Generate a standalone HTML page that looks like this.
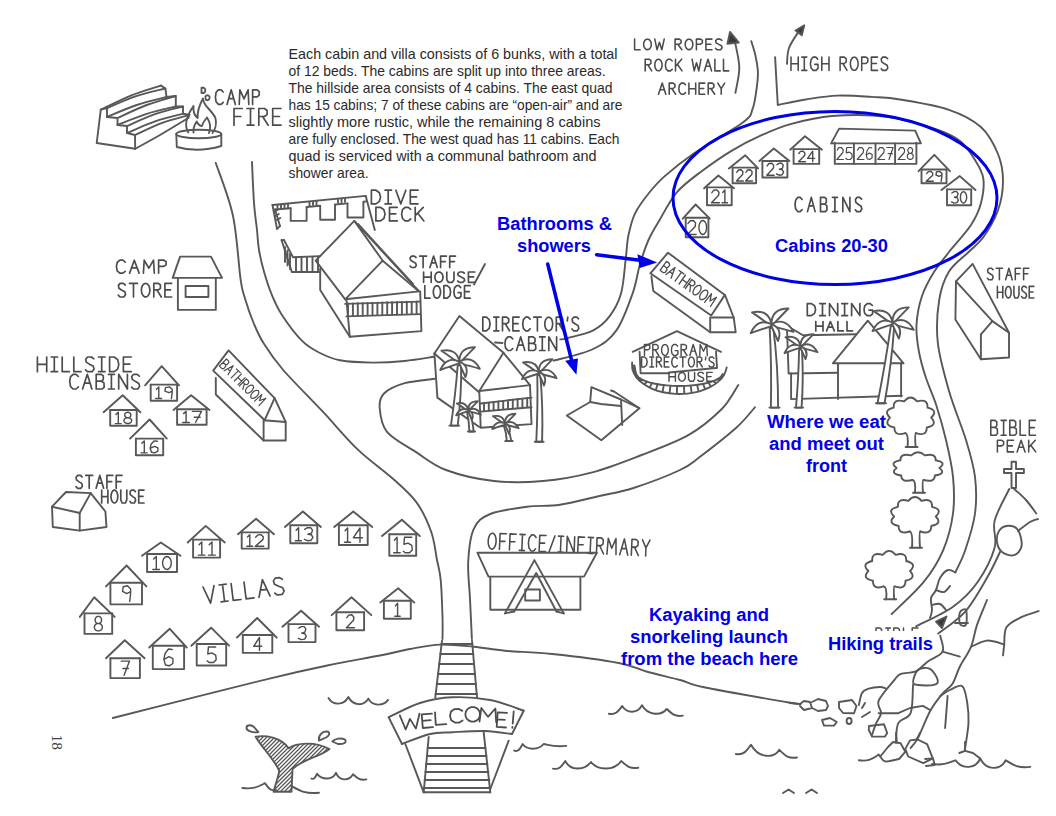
<!DOCTYPE html>
<html><head><meta charset="utf-8">
<style>
html,body{margin:0;padding:0;background:#fff;width:1056px;height:816px;overflow:hidden}
svg{position:absolute;left:0;top:0;display:block}
.p{font-family:"Liberation Sans",sans-serif;font-size:14.5px;fill:#2a2a2a}
.b{font-family:"Liberation Sans",sans-serif;font-weight:bold;font-size:18px;fill:#0000e6}
.h{font-family:"Liberation Sans",sans-serif;fill:#3c3c3c}
.d{fill:none;stroke:#585858;stroke-width:1.9;stroke-linecap:round;stroke-linejoin:round}
.bl{fill:none;stroke:#0000e6;stroke-width:3}
</style></head><body>
<svg width="1056" height="816" viewBox="0 0 1056 816">
<!-- paragraph -->
<g class="p">
<text x="288.5" y="59" textLength="329" lengthAdjust="spacingAndGlyphs">Each cabin and villa consists of 6 bunks, with a total</text>
<text x="288.5" y="76" textLength="317" lengthAdjust="spacingAndGlyphs">of 12 beds. The cabins are split up into three areas.</text>
<text x="288.5" y="93" textLength="324" lengthAdjust="spacingAndGlyphs">The hillside area consists of 4 cabins. The east quad</text>
<text x="288.5" y="110" textLength="334" lengthAdjust="spacingAndGlyphs">has 15 cabins; 7 of these cabins are “open-air” and are</text>
<text x="288.5" y="127" textLength="312" lengthAdjust="spacingAndGlyphs">slightly more rustic, while the remaining 8 cabins</text>
<text x="288.5" y="144" textLength="331" lengthAdjust="spacingAndGlyphs">are fully enclosed. The west quad has 11 cabins. Each</text>
<text x="288.5" y="161" textLength="308" lengthAdjust="spacingAndGlyphs">quad is serviced with a communal bathroom and</text>
<text x="288.5" y="178" textLength="80" lengthAdjust="spacingAndGlyphs">shower area.</text>
</g>
<!-- DRAWING -->
<g class="d" id="draw">
<path d="M215.8,163.0 C218.7,171.8 228.9,196.6 233.0,216.0 C237.1,235.4 238.6,265.6 240.6,279.4 C242.6,293.1 242.8,291.1 245.0,298.5 C247.2,305.9 250.6,315.9 253.8,323.5 C257.0,331.1 259.2,336.4 264.1,344.1 C269.0,351.9 273.5,358.8 283.2,370.0 C292.9,381.2 310.0,398.0 322.4,411.2 C334.8,424.4 345.8,438.1 357.6,449.4 C369.4,460.7 383.2,470.0 393.0,478.8 C402.8,487.6 410.1,493.6 416.5,502.4 C422.9,511.2 427.8,522.2 431.2,531.8 C434.6,541.4 435.4,552.0 437.0,560.0 C438.6,568.0 439.8,570.5 440.7,580.0 C441.6,589.5 442.2,607.2 442.5,617.0 C442.8,626.8 442.5,635.3 442.5,639.0"/>
<path d="M252.0,162.0 C252.3,168.8 253.2,191.7 254.0,203.0 C254.8,214.3 256.2,222.2 257.0,230.0 C257.8,237.8 257.8,243.0 259.0,250.0 C260.2,257.0 262.0,264.7 264.1,272.0 C266.2,279.3 268.6,286.9 271.5,294.0 C274.4,301.1 276.7,306.8 281.8,314.7 C286.9,322.6 296.0,334.8 302.4,341.2 C308.8,347.6 313.7,349.8 320.0,353.0 C326.3,356.2 331.3,358.7 340.0,360.3 C348.7,361.9 361.2,362.5 372.0,362.6 C382.8,362.7 394.4,362.0 404.7,361.0 C415.0,360.0 429.1,357.5 434.0,356.8"/>
<path d="M434.8,378.8 C429.8,379.5 413.2,380.8 404.7,383.2 C396.2,385.6 388.2,389.4 384.0,393.5 C379.8,397.6 379.2,401.6 379.7,408.0 C380.2,414.4 380.9,424.4 387.0,431.8 C393.1,439.2 406.7,446.0 416.5,452.4 C426.3,458.8 433.1,465.2 446.0,470.0 C458.9,474.8 477.7,479.2 493.9,481.0 C510.1,482.8 526.6,482.4 543.0,481.0 C559.4,479.6 575.9,476.6 592.3,472.3 C608.7,468.0 625.5,461.2 641.6,455.0 C657.7,448.8 675.3,442.6 688.7,434.9 C702.1,427.2 713.5,417.3 721.8,409.0 C730.1,400.7 735.5,389.0 738.3,385.0"/>
<path d="M471.9,639.0 C471.6,632.3 470.6,611.5 470.0,598.7 C469.4,585.9 467.6,573.6 468.2,562.0 C468.8,550.4 470.1,536.8 473.8,528.8 C477.4,520.8 481.4,517.7 490.3,514.0 C499.2,510.3 515.4,508.4 527.0,506.8 C538.6,505.2 547.7,506.6 560.0,504.7 C572.3,502.8 588.4,498.5 600.6,495.7 C612.9,492.9 620.3,492.3 633.5,488.0 C646.7,483.7 669.0,475.2 680.0,470.0 C691.0,464.8 690.3,464.1 699.7,457.0 C709.1,449.9 727.3,435.8 736.5,427.5 C745.7,419.2 751.8,410.7 754.9,407.3"/>
<path d="M565.0,337.5 C565.8,337.5 565.2,338.6 569.9,337.4 C574.6,336.2 586.6,333.9 593.2,330.4 C599.8,326.9 604.9,322.6 609.5,316.4 C614.1,310.2 618.4,302.9 621.1,293.2 C623.8,283.5 624.6,267.9 625.8,258.2 C627.0,248.5 626.9,242.5 628.5,235.0 C630.1,227.5 631.8,220.1 635.2,213.1 C638.6,206.1 644.1,199.1 649.0,193.0 C653.9,186.9 657.2,182.8 664.5,176.4 C671.8,170.0 679.6,163.3 692.7,154.3 C705.8,145.3 733.1,129.8 743.1,122.2 C753.1,114.6 750.4,114.3 752.6,108.9 C754.8,103.5 755.5,96.2 756.4,90.0 C757.3,83.8 758.1,77.9 757.9,72.0 C757.7,66.1 756.3,59.6 755.2,54.5 C754.1,49.4 751.9,43.4 751.3,41.2"/>
<path d="M553.6,360.7 C560.2,358.8 582.7,354.1 593.2,349.0 C603.7,343.9 609.8,339.7 616.4,330.4 C623.0,321.1 628.8,304.1 632.7,293.2 C636.6,282.3 637.1,274.1 639.7,265.2 C642.3,256.3 645.2,247.5 648.5,240.0 C651.8,232.5 654.9,227.9 659.6,220.0 C664.3,212.1 669.8,200.4 676.8,192.3 C683.8,184.2 692.1,178.4 701.3,171.5 C710.5,164.6 722.1,156.5 731.9,150.6 C741.7,144.7 750.2,140.3 760.0,135.9 C769.8,131.5 778.5,127.4 790.5,124.1 C802.5,120.8 815.9,117.2 832.0,116.0 C848.1,114.8 869.8,114.6 887.0,116.8 C904.2,119.0 922.8,125.0 935.0,129.0 C947.2,133.0 953.3,135.8 960.0,141.0 C966.7,146.2 971.1,153.8 975.0,160.0 C978.9,166.2 982.3,171.2 983.3,178.4 C984.3,185.6 983.0,195.2 981.0,203.0 C979.0,210.8 976.3,216.8 971.0,225.0 C965.7,233.2 955.1,244.2 949.0,252.0 C942.9,259.8 938.8,264.3 934.3,271.6 C929.8,278.9 925.0,287.1 922.0,296.0 C919.0,304.9 917.0,315.7 916.5,325.0 C916.0,334.3 917.4,343.2 919.0,352.0 C920.6,360.8 923.1,369.2 926.0,378.0 C928.9,386.8 932.9,394.7 936.2,405.0 C939.5,415.3 943.2,428.0 946.0,440.0 C948.8,452.0 951.8,464.6 953.0,476.8 C954.2,489.1 954.6,501.2 953.0,513.5 C951.4,525.8 948.0,538.8 943.1,550.3 C938.2,561.8 932.1,571.6 923.5,582.2 C914.9,592.8 897.0,608.7 891.7,614.0"/>
<path d="M775.1,57.1 C775.5,65.1 777.3,96.9 777.8,104.9"/>
<path d="M777.8,104.9 C782.4,104.0 795.7,101.1 805.6,99.5 C815.5,98.0 826.4,96.0 837.4,95.6 C848.4,95.2 861.5,96.2 871.9,96.9 C882.3,97.6 887.1,97.4 900.0,99.5 C912.9,101.7 935.5,105.2 949.0,109.8 C962.5,114.4 972.7,119.6 980.9,127.0 C989.1,134.4 994.3,145.0 998.0,154.0 C1001.7,163.0 1003.0,171.6 1003.0,181.0 C1003.0,190.4 1001.3,200.9 998.0,210.3 C994.7,219.7 988.2,230.4 983.3,237.3 C978.4,244.2 974.3,246.3 968.6,252.0 C962.9,257.7 953.9,263.6 949.0,271.6 C944.1,279.6 941.1,288.1 939.2,300.0 C937.3,311.9 936.1,327.3 937.8,342.7 C939.5,358.1 944.7,376.1 949.4,392.3 C954.1,408.5 961.7,425.9 966.0,440.0 C970.3,454.1 973.5,464.6 975.0,476.8 C976.5,489.1 976.6,501.2 975.0,513.5 C973.4,525.8 968.5,540.5 965.2,550.3 C961.9,560.1 957.0,568.7 955.4,572.4"/>
<path d="M100.8,109.6 L96.7,143.0 L135.2,148.8"/>
<path d="M100.8,109.6 L107.0,108.0 L107.0,117.0 L117.5,118.0 L117.5,125.0 L127.0,126.0 L127.0,133.0 L135.0,135.0 L135.2,148.8"/>
<path d="M161.0,85.6 L165.4,88.5 L166.5,97.0 L175.8,96.0 L175.8,106.5 L183.0,106.5 L183.0,113.8 L189.4,114.8 L188.3,118.0"/>
<path d="M135.2,148.8 C139.3,146.5 151.2,140.1 160.0,135.0 C168.8,129.9 183.6,120.8 188.3,118.0"/>
<path d="M100.8,109.6 C105.8,107.3 120.9,99.6 130.9,95.6 C140.9,91.6 156.0,87.3 161.0,85.6"/>
<path d="M107.0,108.0 C111.9,106.0 126.5,99.5 136.2,96.2 C145.9,93.0 160.5,89.8 165.4,88.5"/>
<path d="M107.0,117.0 C112.0,115.0 126.8,108.3 136.8,105.0 C146.7,101.7 161.5,98.3 166.5,97.0"/>
<path d="M117.5,118.0 C122.4,115.8 136.9,108.7 146.7,105.0 C156.4,101.3 170.9,97.5 175.8,96.0"/>
<path d="M117.5,125.0 C122.4,123.1 136.9,116.8 146.7,113.8 C156.4,110.7 170.9,107.7 175.8,106.5"/>
<path d="M127.0,126.0 C131.7,124.0 145.7,117.5 155.0,114.2 C164.3,111.0 178.3,107.8 183.0,106.5"/>
<path d="M127.0,133.0 C131.7,131.1 145.7,124.6 155.0,121.4 C164.3,118.2 178.3,115.0 183.0,113.8"/>
<path d="M135.0,135.0 C139.5,133.0 153.1,126.3 162.2,122.9 C171.3,119.5 184.9,116.2 189.4,114.8"/>
<path d="M176.3,134 A22.5,4.2 0 0 1 221.3,134 A22.5,4.2 0 0 1 176.3,134 Z"/>
<path d="M176.3,134 L176.8,147 Q198,153 221.3,146 L221.3,134"/>
<path d="M188.3,132.5 C183,124 188,114 193.5,106 C193,112 195,116 197.7,118 C197,110 200,104 203,98.5 C203,106 212,110 215.4,118 C217,124 215,130 212.5,133"/>
<path d="M193.5,132.5 C193,128 195,124 196.7,121.5 C198,124 200,126 201.9,126 C203,122 205,120 207,117.5 C210,122 211,128 209,133"/>
<path d="M201.5,87.7 L203.5,87.7 C206,89 206,92 203.5,93 L201.5,93 Z"/>
<path d="M205.5,98 C205,95 208,94.5 209.5,96.5 C210.5,99 208,101 206,100 Z"/>
<path d="M223.2,92.0L221.1,89.8L218.4,89.8L216.1,92.4L215.4,97.1L216.1,101.8L218.4,104.4L221.1,104.4L223.2,102.4M227.0,104.4L231.2,89.8L235.4,104.4M228.7,98.6L233.7,98.6M239.2,104.4L239.9,89.8L244.0,98.9L248.1,89.8L248.8,104.4M252.6,104.4L252.6,89.8L257.2,89.8L259.2,91.6L259.2,95.1L257.2,96.8L252.6,96.8" fill="none" stroke="#4c4c4c" stroke-width="1.68" stroke-linecap="round" stroke-linejoin="round"/>
<path d="M242.3,108.5L234.0,108.5L234.0,125.2M234.0,116.5L240.8,116.5M250.5,108.5L250.5,125.2M247.1,108.5L253.9,108.5M247.1,125.2L253.9,125.2M258.8,125.2L258.8,108.5L264.5,108.5L267.1,110.5L267.1,114.5L264.5,116.5L258.8,116.5M262.6,116.5L268.2,125.2M281.0,108.5L272.7,108.5L272.7,125.2L281.0,125.2M272.7,116.5L279.5,116.5" fill="none" stroke="#4c4c4c" stroke-width="1.68" stroke-linecap="round" stroke-linejoin="round"/>
<path d="M272.5,205.0 L365.7,195.9"/>
<path d="M275.0,209.5 L290.7,208.3"/>
<path d="M306.6,207.0 L320.2,205.8"/>
<path d="M335.0,204.5 L347.5,203.4"/>
<path d="M363.4,201.8 L365.7,201.5"/>
<path d="M290.7,208.1 L290.7,220.9 L306.6,220.9 L306.6,207.1"/>
<path d="M320.2,205.9 L320.2,219.8 L335.0,219.8 L335.0,204.9"/>
<path d="M347.5,203.6 L347.5,217.5 L363.4,217.5 L363.4,202.6"/>
<path d="M365.7,195.9 L374.8,230.0"/>
<path d="M272.5,205.0 L277.0,228.9"/>
<path d="M275.0,209.5 L280.0,226.0"/>
<path d="M277.0,228.9 L280.0,226.0"/>
<path d="M277.5,205.0 L277.5,208.5"/>
<path d="M281.0,204.7 L281.0,208.2"/>
<path d="M284.5,204.3 L284.5,207.8"/>
<path d="M288.0,204.0 L288.0,207.5"/>
<path d="M309.5,201.9 L309.5,205.4"/>
<path d="M313.0,201.5 L313.0,205.0"/>
<path d="M316.5,201.2 L316.5,204.7"/>
<path d="M338.0,199.1 L338.0,202.6"/>
<path d="M341.5,198.8 L341.5,202.3"/>
<path d="M345.0,198.4 L345.0,201.9"/>
<path d="M273.8,212.0 L277.3,210.0"/>
<path d="M275.3,216.0 L278.8,214.0"/>
<path d="M276.8,220.0 L280.3,218.0"/>
<path d="M281.6,240.2 L291.8,272.0 L320.2,272.0"/>
<path d="M284.0,240.0 L293.0,257.3 L320.2,256.1"/>
<path d="M281.6,240.2 L284.0,240.0"/>
<path d="M296.0,257.0 L296.0,272.0"/>
<path d="M301.5,257.0 L301.5,272.0"/>
<path d="M307.0,257.0 L307.0,272.0"/>
<path d="M312.5,257.0 L312.5,272.0"/>
<path d="M318.0,257.0 L318.0,272.0"/>
<path d="M285.0,247.0 L285.0,262.0"/>
<path d="M287.5,250.5 L287.5,265.5"/>
<path d="M290.0,254.0 L290.0,269.0"/>
<path d="M371.4,190.2L371.4,203.9L375.9,203.9L379.4,201.4L380.6,197.1L379.4,192.7L375.9,190.2L371.4,190.2M388.2,190.2L388.2,203.9M385.1,190.2L391.4,190.2M385.1,203.9L391.4,203.9M395.9,190.2L400.8,203.9L405.8,190.2M418.0,190.2L410.3,190.2L410.3,203.9L418.0,203.9M410.3,196.8L416.6,196.8" fill="none" stroke="#4c4c4c" stroke-width="1.68" stroke-linecap="round" stroke-linejoin="round"/>
<path d="M375.9,207.3L375.9,220.9L380.4,220.9L383.9,218.5L385.0,214.1L383.9,209.7L380.4,207.3L375.9,207.3M397.2,207.3L389.5,207.3L389.5,220.9L397.2,220.9M389.5,213.8L395.8,213.8M410.7,209.3L408.4,207.3L405.1,207.3L402.5,209.7L401.6,214.1L402.5,218.5L405.1,220.9L408.4,220.9L410.7,219.0M415.2,207.3L415.2,220.9M423.3,207.3L415.2,215.7M418.0,213.4L423.9,220.9" fill="none" stroke="#4c4c4c" stroke-width="1.68" stroke-linecap="round" stroke-linejoin="round"/>
<path d="M354.3,220.9 L315.7,260.7 L345.2,299.3 L382.7,260.7 L354.3,220.9"/>
<path d="M354.3,220.9 L419.1,291.4"/>
<path d="M358.0,224.0 L413.0,284.0"/>
<path d="M345.2,299.3 L419.1,291.4 L382.7,260.7"/>
<path d="M345.2,303.9 L420.2,301.6"/>
<path d="M346.4,316.4 L420.2,314.1"/>
<path d="M348.0,303.5 L348.0,316.0"/>
<path d="M352.9,303.4 L352.9,315.9"/>
<path d="M357.8,303.2 L357.8,315.7"/>
<path d="M362.7,303.1 L362.7,315.6"/>
<path d="M367.6,302.9 L367.6,315.4"/>
<path d="M372.5,302.8 L372.5,315.2"/>
<path d="M377.4,302.6 L377.4,315.1"/>
<path d="M382.3,302.4 L382.3,314.9"/>
<path d="M387.2,302.3 L387.2,314.8"/>
<path d="M392.1,302.1 L392.1,314.6"/>
<path d="M397.0,302.0 L397.0,314.5"/>
<path d="M401.9,301.9 L401.9,314.4"/>
<path d="M406.8,301.7 L406.8,314.2"/>
<path d="M411.7,301.6 L411.7,314.1"/>
<path d="M416.6,301.4 L416.6,313.9"/>
<path d="M320.2,268.6 L320.2,290.0 L349.8,336.8"/>
<path d="M346.4,299.3 L349.8,336.8 L421.4,331.1 L420.2,291.4"/>
<path d="M416.1,257.5L414.4,256.1L411.6,256.1L410.1,257.8L410.5,260.1L413.1,261.8L415.7,263.2L416.3,265.4L414.8,267.5L411.5,267.5L410.0,266.0M419.6,256.1L426.6,256.1M423.1,256.1L423.1,267.5M429.9,267.5L433.6,256.1L437.3,267.5M431.4,262.9L435.8,262.9M446.4,256.1L440.6,256.1L440.6,267.5M440.6,261.6L445.3,261.6M455.5,256.1L449.7,256.1L449.7,267.5M449.7,261.6L454.5,261.6" fill="none" stroke="#4c4c4c" stroke-width="1.68" stroke-linecap="round" stroke-linejoin="round"/>
<path d="M423.6,272.0L423.6,282.3M431.2,272.0L431.2,282.3M423.6,277.1L431.2,277.1M443.0,277.1L442.8,278.9L442.1,280.5L441.0,281.6L439.7,282.2L438.3,282.2L436.9,281.6L435.8,280.5L435.1,278.9L434.9,277.2L435.1,275.4L435.8,273.8L436.9,272.7L438.3,272.1L439.7,272.1L441.0,272.7L442.1,273.8L442.8,275.4L443.0,277.1M446.8,272.0L446.8,279.7L448.4,282.3L452.3,282.3L454.0,279.7L454.0,272.0M464.4,273.2L462.6,272.0L459.4,272.0L457.8,273.5L458.3,275.6L461.2,277.1L464.0,278.4L464.7,280.4L463.0,282.3L459.3,282.3L457.7,281.0M474.8,272.0L468.4,272.0L468.4,282.3L474.8,282.3M468.4,276.9L473.6,276.9" fill="none" stroke="#4c4c4c" stroke-width="1.68" stroke-linecap="round" stroke-linejoin="round"/>
<path d="M474.0,284.5 L485.0,264.0"/>
<path d="M424.8,285.7L424.8,298.2L430.0,298.2M440.6,291.9L440.3,294.1L439.7,296.0L438.7,297.4L437.6,298.1L436.3,298.1L435.1,297.4L434.1,296.0L433.5,294.1L433.3,291.9L433.5,289.8L434.1,287.9L435.1,286.5L436.3,285.8L437.6,285.8L438.7,286.5L439.7,287.9L440.3,289.8L440.6,291.9M443.9,285.7L443.9,298.2L447.2,298.2L449.8,295.9L450.6,291.9L449.8,287.9L447.2,285.7L443.9,285.7M460.7,287.6L458.9,285.7L456.5,285.7L454.5,287.9L453.9,291.9L454.5,295.9L456.5,298.2L459.1,298.2L461.0,296.3L461.0,292.6L458.1,292.6M470.2,285.7L464.5,285.7L464.5,298.2L470.2,298.2M464.5,291.7L469.2,291.7" fill="none" stroke="#4c4c4c" stroke-width="1.68" stroke-linecap="round" stroke-linejoin="round"/>
<path d="M172.7,277.9 L180.1,256.6 L211.0,256.6 L222.0,277.9 L172.7,277.9"/>
<path d="M177.9,277.9 L177.9,309.9 L215.8,309.9 L215.8,277.9"/>
<path d="M185.6,286.0 L208.4,286.0 L208.4,297.0 L185.6,297.0Z"/>
<path d="M125.2,262.1L122.9,260.2L119.8,260.2L117.2,262.5L116.4,266.6L117.2,270.8L119.8,273.1L122.9,273.1L125.2,271.3M129.6,273.1L134.3,260.2L139.1,273.1M131.5,267.9L137.2,267.9M143.4,273.1L144.2,260.2L148.9,268.2L153.5,260.2L154.3,273.1M158.6,273.1L158.6,260.2L163.8,260.2L166.1,261.7L166.1,264.8L163.8,266.4L158.6,266.4" fill="none" stroke="#4c4c4c" stroke-width="1.68" stroke-linecap="round" stroke-linejoin="round"/>
<path d="M125.3,285.0L123.4,283.4L120.1,283.4L118.4,285.4L118.9,288.2L121.9,290.2L124.9,291.8L125.6,294.6L123.9,297.0L120.0,297.0L118.3,295.2M129.5,283.4L137.5,283.4M133.5,283.4L133.5,297.0M149.9,290.2L149.6,292.5L148.9,294.6L147.7,296.1L146.4,296.9L144.9,296.9L143.5,296.1L142.4,294.6L141.6,292.5L141.4,290.2L141.6,287.9L142.4,285.8L143.5,284.3L144.9,283.5L146.4,283.5L147.7,284.3L148.9,285.8L149.6,287.9L149.9,290.2M153.8,297.0L153.8,283.4L158.4,283.4L160.4,285.0L160.4,288.3L158.4,289.9L153.8,289.9M156.8,289.9L161.3,297.0M171.6,283.4L164.9,283.4L164.9,297.0L171.6,297.0M164.9,289.9L170.4,289.9" fill="none" stroke="#4c4c4c" stroke-width="1.68" stroke-linecap="round" stroke-linejoin="round"/>
<path d="M37.4,357.0L37.4,371.7M46.7,357.0L46.7,371.7M37.4,364.4L46.7,364.4M54.3,357.0L54.3,371.7M51.2,357.0L57.6,357.0M51.2,371.7L57.6,371.7M62.2,357.0L62.2,371.7L69.3,371.7M73.8,357.0L73.8,371.7L81.0,371.7M93.8,358.8L91.5,357.0L87.6,357.0L85.7,359.2L86.2,362.1L89.8,364.4L93.2,366.1L94.1,369.1L92.1,371.7L87.5,371.7L85.5,369.8M101.7,357.0L101.7,371.7M98.6,357.0L105.0,357.0M98.6,371.7L105.0,371.7M109.6,357.0L109.6,371.7L114.1,371.7L117.7,369.1L118.8,364.4L117.7,359.6L114.1,357.0L109.6,357.0M131.2,357.0L123.4,357.0L123.4,371.7L131.2,371.7M123.4,364.1L129.8,364.1" fill="none" stroke="#4c4c4c" stroke-width="1.68" stroke-linecap="round" stroke-linejoin="round"/>
<path d="M78.4,376.5L76.1,374.3L73.0,374.3L70.5,376.9L69.7,381.6L70.5,386.4L73.0,389.0L76.1,389.0L78.4,386.9M82.6,389.0L87.3,374.3L91.9,389.0M84.5,383.1L90.1,383.1M96.2,374.3L96.2,389.0M96.2,374.3L101.3,374.3L103.3,375.8L103.3,379.6L101.3,381.2L96.2,381.2M101.3,381.2L103.9,382.8L104.2,387.2L102.2,389.0L96.2,389.0M111.4,374.3L111.4,389.0M108.4,374.3L114.4,374.3M108.4,389.0L114.4,389.0M118.7,389.0L118.7,374.3L127.4,389.0L127.4,374.3M139.3,376.1L137.2,374.3L133.6,374.3L131.7,376.5L132.3,379.4L135.6,381.6L138.8,383.4L139.6,386.4L137.7,389.0L133.5,389.0L131.6,387.1" fill="none" stroke="#4c4c4c" stroke-width="1.68" stroke-linecap="round" stroke-linejoin="round"/>
<path d="M145.1,385.3 L161.7,366.2 L179.0,385.3"/>
<path d="M150.7,384.6 L177.1,384.6"/>
<path d="M150.7,384.6 L150.7,400.8 L177.1,400.8 L177.1,384.6"/>
<path d="M156.4,389.2L158.8,386.9L158.8,398.5M155.7,398.5L161.6,398.5M172.1,391.3L168.9,392.7L164.9,391.1L165.5,387.6L169.4,386.9L172.2,389.2L172.2,392.7L171.4,398.5" fill="none" stroke="#4c4c4c" stroke-width="1.4" stroke-linecap="round" stroke-linejoin="round"/>
<path d="M103.6,412.2 L122.7,395.2 L140.4,412.2"/>
<path d="M110.2,410.0 L136.7,410.0"/>
<path d="M110.2,410.0 L110.2,425.8 L136.7,425.8 L136.7,410.0"/>
<path d="M115.9,414.5L118.3,412.2L118.3,423.6M115.2,423.6L121.1,423.6M130.9,415.1L130.6,416.3L129.7,417.3L128.5,417.8L127.1,417.8L125.9,417.3L125.0,416.3L124.7,415.1L125.0,413.8L125.9,412.8L127.1,412.3L128.5,412.3L129.7,412.8L130.6,413.8L130.9,415.1M131.7,420.6L131.3,421.9L130.2,422.9L128.7,423.5L126.9,423.5L125.4,422.9L124.3,421.9L123.9,420.6L124.3,419.3L125.4,418.3L126.9,417.7L128.7,417.7L130.2,418.3L131.3,419.3L131.7,420.6" fill="none" stroke="#4c4c4c" stroke-width="1.4" stroke-linecap="round" stroke-linejoin="round"/>
<path d="M173.5,410.0 L191.1,395.2 L209.5,410.0"/>
<path d="M177.1,409.2 L206.6,409.2"/>
<path d="M177.1,409.2 L177.1,424.7 L206.6,424.7 L206.6,409.2"/>
<path d="M183.5,413.6L186.1,411.4L186.1,422.5M182.7,422.5L189.3,422.5M192.4,411.4L201.5,411.4L195.5,422.5M194.3,417.2L200.2,417.2" fill="none" stroke="#4c4c4c" stroke-width="1.4" stroke-linecap="round" stroke-linejoin="round"/>
<path d="M130.0,438.6 L149.6,419.5 L166.8,438.6"/>
<path d="M135.9,438.6 L163.2,438.6"/>
<path d="M135.9,438.6 L135.9,455.2 L163.2,455.2 L163.2,438.6"/>
<path d="M141.8,443.3L144.3,440.9L144.3,452.9M141.1,452.9L147.2,452.9M157.3,441.3L154.1,440.9L151.2,443.9L150.1,448.3L151.5,452.3L154.7,452.9L157.9,451.2L157.9,447.9L154.4,446.4L150.6,448.1" fill="none" stroke="#4c4c4c" stroke-width="1.4" stroke-linecap="round" stroke-linejoin="round"/>
<path d="M213.2,370.6 L228.6,350.4 L274.6,398.2 L264.7,420.2 L213.2,370.6"/>
<path d="M215.8,378.0 L215.8,394.5 L263.6,440.5"/>
<path d="M263.6,420.2 L285.7,422.0 L285.7,440.5 L263.6,440.5 L263.6,420.2"/>
<path d="M274.6,398.2 L285.7,422.0"/>
<path d="M226.5,359.0L219.4,366.1M226.5,359.0L228.7,361.2L228.8,362.7L227.0,364.6L225.3,364.5L223.2,362.3M225.3,364.5L225.7,366.4L223.7,368.6L222.0,368.6L219.4,366.1M224.1,370.7L233.2,365.7L228.1,374.7M227.7,368.7L230.1,371.1M236.4,368.9L240.2,372.7M238.3,370.8L231.2,377.9M241.4,373.9L234.4,381.0M245.1,377.6L238.1,384.7M237.9,377.5L241.6,381.2M239.3,386.0L246.4,378.9L248.5,381.0L248.7,382.9L247.0,384.6L245.2,384.4L243.0,382.3M244.4,383.7L242.8,389.5M251.5,391.1L250.2,392.2L248.8,392.9L247.5,393.1L246.4,392.9L245.7,392.2L245.5,391.2L245.7,389.8L246.4,388.4L247.5,387.1L248.9,386.0L250.3,385.3L251.6,385.0L252.7,385.3L253.3,386.0L253.6,387.0L253.3,388.3L252.6,389.8L251.5,391.1M256.8,396.3L255.4,397.4L254.0,398.1L252.7,398.4L251.6,398.2L250.9,397.5L250.7,396.4L251.0,395.1L251.7,393.7L252.8,392.3L254.1,391.2L255.5,390.5L256.8,390.3L257.9,390.5L258.6,391.2L258.8,392.3L258.6,393.6L257.8,395.0L256.8,396.3M254.5,401.1L261.9,394.4L259.4,400.7L265.8,398.3L259.0,405.7" fill="none" stroke="#4c4c4c" stroke-width="1.2" stroke-linecap="round" stroke-linejoin="round"/>
<path d="M52.0,506.7 L66.0,492.0 L90.7,493.1 L105.4,511.5 L106.5,527.0 L79.7,530.6 L52.8,527.0 L52.0,506.7"/>
<path d="M52.0,506.7 L79.7,513.0 L90.7,493.1"/>
<path d="M79.7,513.0 L79.7,530.6"/>
<path d="M82.1,476.9L80.5,475.4L77.6,475.4L76.1,477.3L76.5,479.9L79.2,481.9L81.7,483.4L82.4,486.0L80.9,488.3L77.5,488.3L76.0,486.6M85.8,475.4L92.7,475.4M89.2,475.4L89.2,488.3M96.1,488.3L99.8,475.4L103.6,488.3M97.6,483.1L102.1,483.1M112.8,475.4L106.9,475.4L106.9,488.3M106.9,481.6L111.7,481.6M122.0,475.4L116.2,475.4L116.2,488.3M116.2,481.6L120.9,481.6" fill="none" stroke="#4c4c4c" stroke-width="1.68" stroke-linecap="round" stroke-linejoin="round"/>
<path d="M101.7,490.1L101.7,503.0M107.9,490.1L107.9,503.0M101.7,496.6L107.9,496.6M117.8,496.6L117.6,498.8L117.0,500.7L116.1,502.1L115.0,502.9L113.8,502.9L112.7,502.1L111.8,500.7L111.2,498.8L111.0,496.6L111.2,494.3L111.8,492.4L112.7,491.0L113.8,490.2L115.0,490.2L116.1,491.0L117.0,492.4L117.6,494.3L117.8,496.6M120.8,490.1L120.8,499.8L122.2,503.0L125.4,503.0L126.8,499.8L126.8,490.1M135.4,491.6L133.9,490.1L131.3,490.1L130.0,492.0L130.3,494.6L132.8,496.6L135.1,498.1L135.6,500.7L134.3,503.0L131.2,503.0L129.9,501.3M144.0,490.1L138.7,490.1L138.7,503.0L144.0,503.0M138.7,496.3L143.0,496.3" fill="none" stroke="#4c4c4c" stroke-width="1.68" stroke-linecap="round" stroke-linejoin="round"/>
<path d="M142.0,555.8 L160.8,542.5 L180.5,555.8"/>
<path d="M147.1,554.0 L177.0,554.0"/>
<path d="M147.1,554.0 L147.1,572.0 L177.0,572.0 L177.0,554.0"/>
<path d="M153.6,559.1L156.3,556.5L156.3,569.5M152.8,569.5L159.4,569.5M171.3,563.0L171.0,565.5L170.0,567.6L168.6,569.0L167.0,569.5L165.3,569.0L163.9,567.6L162.9,565.5L162.6,563.0L162.9,560.5L163.9,558.4L165.3,557.0L167.0,556.5L168.6,557.0L170.0,558.4L171.0,560.5L171.3,563.0" fill="none" stroke="#4c4c4c" stroke-width="1.4" stroke-linecap="round" stroke-linejoin="round"/>
<path d="M187.7,542.5 L205.7,525.9 L224.8,542.5"/>
<path d="M193.1,539.6 L220.1,539.6"/>
<path d="M193.1,539.6 L193.1,557.6 L220.1,557.6 L220.1,539.6"/>
<path d="M199.1,544.7L201.8,542.1L201.8,555.1M198.2,555.1L205.1,555.1M209.2,544.7L212.0,542.1L212.0,555.1M208.4,555.1L215.3,555.1" fill="none" stroke="#4c4c4c" stroke-width="1.4" stroke-linecap="round" stroke-linejoin="round"/>
<path d="M238.0,534.2 L256.1,518.7 L274.0,534.2"/>
<path d="M241.7,532.4 L268.7,532.4"/>
<path d="M241.7,532.4 L241.7,548.6 L268.7,548.6 L268.7,532.4"/>
<path d="M247.5,537.0L249.8,534.7L249.8,546.3M246.8,546.3L252.6,546.3M255.7,537.2L257.8,534.9L261.1,534.7L263.3,536.8L262.9,539.6L255.3,546.3L263.8,546.3" fill="none" stroke="#4c4c4c" stroke-width="1.4" stroke-linecap="round" stroke-linejoin="round"/>
<path d="M284.9,527.0 L302.9,511.5 L320.9,527.0"/>
<path d="M290.3,525.2 L317.3,525.2"/>
<path d="M290.3,525.2 L290.3,543.2 L317.3,543.2 L317.3,525.2"/>
<path d="M296.1,530.3L298.6,527.7L298.6,540.7M295.4,540.7L301.4,540.7M304.7,529.3L307.4,527.7L310.7,527.7L312.5,530.1L311.5,533.2L307.9,534.2L311.5,534.8L312.9,537.4L311.2,540.2L307.4,540.7L304.3,539.4" fill="none" stroke="#4c4c4c" stroke-width="1.4" stroke-linecap="round" stroke-linejoin="round"/>
<path d="M334.2,527.0 L353.3,511.5 L372.3,527.0"/>
<path d="M338.9,525.2 L367.7,525.2"/>
<path d="M338.9,525.2 L338.9,545.0 L367.7,545.0 L367.7,525.2"/>
<path d="M345.1,530.8L347.6,528.0L347.6,542.2M344.4,542.2L350.5,542.2M360.0,542.2L360.0,528.0L353.4,537.7L362.5,537.7" fill="none" stroke="#4c4c4c" stroke-width="1.4" stroke-linecap="round" stroke-linejoin="round"/>
<path d="M382.0,536.0 L401.9,519.8 L419.8,536.0"/>
<path d="M389.3,534.2 L416.2,534.2"/>
<path d="M389.3,534.2 L389.3,555.8 L416.2,555.8 L416.2,534.2"/>
<path d="M394.4,540.3L397.1,537.2L397.1,552.8M393.7,552.8L400.2,552.8M411.8,537.2L404.5,537.2L403.9,544.2L408.0,543.1L411.8,545.3L412.3,550.0L409.5,552.8L405.2,552.8L403.3,551.2" fill="none" stroke="#4c4c4c" stroke-width="1.4" stroke-linecap="round" stroke-linejoin="round"/>
<path d="M106.0,586.4 L126.6,565.5 L146.4,586.4"/>
<path d="M110.4,582.8 L142.0,582.8"/>
<path d="M110.4,582.8 L110.4,604.4 L142.0,604.4 L142.0,582.8"/>
<path d="M130.5,591.7L126.9,593.6L122.5,591.4L123.2,586.8L127.5,585.8L130.6,588.9L130.6,593.6L129.7,601.4" fill="none" stroke="#4c4c4c" stroke-width="1.4" stroke-linecap="round" stroke-linejoin="round"/>
<path d="M79.8,616.9 L94.2,597.2 L114.7,616.9"/>
<path d="M84.5,613.4 L112.2,613.4"/>
<path d="M84.5,613.4 L84.5,633.9 L112.2,633.9 L112.2,613.4"/>
<path d="M101.6,620.0L101.3,621.6L100.4,622.8L99.1,623.6L97.6,623.6L96.3,622.8L95.4,621.6L95.1,620.0L95.4,618.4L96.3,617.1L97.6,616.4L99.1,616.4L100.4,617.1L101.3,618.4L101.6,620.0M102.4,627.2L102.0,628.9L100.9,630.2L99.3,630.9L97.4,630.9L95.8,630.2L94.7,628.9L94.3,627.2L94.7,625.5L95.8,624.2L97.4,623.5L99.3,623.5L100.9,624.2L102.0,625.5L102.4,627.2" fill="none" stroke="#4c4c4c" stroke-width="1.4" stroke-linecap="round" stroke-linejoin="round"/>
<path d="M106.0,658.3 L124.8,640.3 L144.6,658.3"/>
<path d="M110.4,658.3 L139.9,658.3"/>
<path d="M110.4,658.3 L110.4,678.1 L139.9,678.1 L139.9,658.3"/>
<path d="M121.2,661.1L129.5,661.1L124.1,675.3M122.9,668.5L128.4,668.5" fill="none" stroke="#4c4c4c" stroke-width="1.4" stroke-linecap="round" stroke-linejoin="round"/>
<path d="M149.2,647.5 L169.8,628.8 L186.7,647.5"/>
<path d="M152.8,645.7 L184.1,645.7"/>
<path d="M152.8,645.7 L152.8,669.1 L184.1,669.1 L184.1,645.7"/>
<path d="M172.2,649.5L168.5,649.0L165.2,653.2L163.8,659.4L165.5,665.0L169.2,665.8L172.9,663.5L172.9,658.7L168.9,656.7L164.5,659.1" fill="none" stroke="#4c4c4c" stroke-width="1.4" stroke-linecap="round" stroke-linejoin="round"/>
<path d="M191.3,645.7 L211.1,627.7 L229.1,645.7"/>
<path d="M196.7,644.0 L226.2,644.0"/>
<path d="M196.7,644.0 L196.7,665.5 L226.2,665.5 L226.2,644.0"/>
<path d="M215.7,647.0L208.4,647.0L207.8,654.0L211.8,652.9L215.7,655.1L216.2,659.7L213.4,662.5L209.1,662.5L207.2,660.9" fill="none" stroke="#4c4c4c" stroke-width="1.4" stroke-linecap="round" stroke-linejoin="round"/>
<path d="M237.0,637.5 L257.2,618.0 L276.6,637.5"/>
<path d="M242.8,635.0 L272.3,635.0"/>
<path d="M242.8,635.0 L242.8,652.9 L272.3,652.9 L272.3,635.0"/>
<path d="M259.5,650.4L259.5,637.5L253.7,646.3L261.7,646.3" fill="none" stroke="#4c4c4c" stroke-width="1.4" stroke-linecap="round" stroke-linejoin="round"/>
<path d="M282.4,626.7 L301.1,610.8 L319.1,626.7"/>
<path d="M288.5,624.1 L315.5,624.1"/>
<path d="M288.5,624.1 L288.5,642.1 L315.5,642.1 L315.5,624.1"/>
<path d="M298.8,628.2L301.3,626.6L304.3,626.6L305.8,629.0L304.9,632.1L301.7,633.1L304.9,633.7L306.2,636.3L304.7,639.1L301.3,639.6L298.4,638.3" fill="none" stroke="#4c4c4c" stroke-width="1.4" stroke-linecap="round" stroke-linejoin="round"/>
<path d="M331.7,615.1 L351.5,597.2 L371.3,615.1"/>
<path d="M336.4,612.3 L364.1,612.3"/>
<path d="M336.4,612.3 L336.4,630.3 L364.1,630.3 L364.1,612.3"/>
<path d="M346.8,617.7L348.7,615.1L351.8,614.8L353.9,617.2L353.5,620.3L346.4,627.8L354.4,627.8" fill="none" stroke="#4c4c4c" stroke-width="1.4" stroke-linecap="round" stroke-linejoin="round"/>
<path d="M380.3,602.6 L398.2,588.2 L414.4,602.6"/>
<path d="M383.9,600.8 L410.8,600.8"/>
<path d="M383.9,600.8 L383.9,618.7 L410.8,618.7 L410.8,600.8"/>
<path d="M395.4,605.9L397.6,603.3L397.6,616.2M394.8,616.2L400.2,616.2" fill="none" stroke="#4c4c4c" stroke-width="1.4" stroke-linecap="round" stroke-linejoin="round"/>
<path d="M203.0,587.0L210.6,603.2L214.0,585.6M222.5,584.6L224.6,601.5M219.0,585.0L226.1,584.2M221.1,601.9L228.2,601.0M231.1,583.5L233.2,600.4L241.1,599.5M244.0,582.0L246.1,598.8L254.0,597.9M259.0,597.3L262.4,579.7L270.0,595.9M260.4,590.2L267.0,589.4M282.3,579.3L279.6,577.6L275.3,578.1L273.4,580.9L274.5,584.2L278.7,586.3L282.7,587.8L284.1,591.1L282.3,594.4L277.2,595.0L274.8,593.1" fill="none" stroke="#4c4c4c" stroke-width="1.68" stroke-linecap="round" stroke-linejoin="round"/>
<path d="M434.4,353.5 L459.4,316.0 L503.5,352.8 L530.0,385.1"/>
<path d="M434.4,353.5 L437.4,397.6 L479.3,427.0"/>
<path d="M434.4,353.5 L478.5,391.8"/>
<path d="M479.3,391.0 L503.5,352.8"/>
<path d="M479.3,391.0 L530.0,385.1"/>
<path d="M479.3,391.8 L480.7,427.8 L531.5,424.1 L530.0,385.1"/>
<path d="M480.7,403.5 L531.5,397.6"/>
<path d="M480.7,411.6 L531.5,407.2"/>
<path d="M484.0,403.2 L484.0,411.3"/>
<path d="M488.8,402.6 L488.8,410.8"/>
<path d="M493.6,402.0 L493.6,410.3"/>
<path d="M498.4,401.5 L498.4,409.8"/>
<path d="M503.2,400.9 L503.2,409.3"/>
<path d="M508.0,400.3 L508.0,408.8"/>
<path d="M512.8,399.7 L512.8,408.3"/>
<path d="M517.6,399.1 L517.6,407.8"/>
<path d="M522.4,398.6 L522.4,407.3"/>
<path d="M527.2,398.0 L527.2,406.8"/>
<path d="M457.7,365.2 Q455.6,393.6 450.9,425.6 L457.7,425.6 Q461.7,393.6 461.1,365.2 Z" fill="#fff"/>
<path d="M449.4,425.6 L459.2,425.6"/>
<path d="M459.4,361.6 Q456.7,347.7 441.4,350.8 Q448.4,355.5 459.4,363.4 Z" fill="#fff"/>
<path d="M459.4,361.6 Q459.2,347.3 475.0,347.2 Q469.0,353.3 459.4,363.4 Z" fill="#fff"/>
<path d="M459.4,361.6 Q446.6,355.8 440.2,370.0 Q448.0,367.0 459.4,363.4 Z" fill="#fff"/>
<path d="M459.4,361.6 Q472.2,354.6 479.8,368.8 Q471.5,366.3 459.4,363.4 Z" fill="#fff"/>
<path d="M459.4,361.6 Q469.9,365.6 465.4,377.2 Q462.7,371.1 459.4,363.4 Z" fill="#fff"/>
<path d="M467.1,412.4 Q469.1,420.8 469.4,431.5 L473.6,431.5 Q472.9,420.8 469.2,412.4 Z" fill="#fff"/>
<path d="M467.9,431.5 L475.1,431.5"/>
<path d="M468.2,410.1 Q466.5,401.4 456.9,403.4 Q461.3,406.3 468.2,411.2 Z" fill="#fff"/>
<path d="M468.2,410.1 Q468.1,401.2 477.9,401.1 Q474.2,404.9 468.2,411.2 Z" fill="#fff"/>
<path d="M468.2,410.1 Q460.2,406.5 456.2,415.4 Q461.1,413.5 468.2,411.2 Z" fill="#fff"/>
<path d="M468.2,410.1 Q476.2,405.8 480.9,414.6 Q475.8,413.1 468.2,411.2 Z" fill="#fff"/>
<path d="M468.2,410.1 Q474.8,412.6 471.9,419.9 Q470.3,416.0 468.2,411.2 Z" fill="#fff"/>
<path d="M503.9,425.8 Q506.2,432.2 506.8,441.0 L511.2,441.0 Q510.2,432.2 506.1,425.8 Z" fill="#fff"/>
<path d="M505.3,441.0 L512.7,441.0"/>
<path d="M505.0,423.4 Q503.2,414.2 493.0,416.2 Q497.7,419.3 505.0,424.6 Z" fill="#fff"/>
<path d="M505.0,423.4 Q504.9,413.9 515.4,413.8 Q511.4,417.8 505.0,424.6 Z" fill="#fff"/>
<path d="M505.0,423.4 Q496.4,419.5 492.2,429.0 Q497.4,427.0 505.0,424.6 Z" fill="#fff"/>
<path d="M505.0,423.4 Q513.5,418.8 518.6,428.2 Q513.1,426.6 505.0,424.6 Z" fill="#fff"/>
<path d="M505.0,423.4 Q512.0,426.1 509.0,433.8 Q507.2,429.7 505.0,424.6 Z" fill="#fff"/>
<path d="M537.3,375.0 Q537.9,406.9 536.3,441.8 L542.1,441.8 Q543.2,406.9 540.3,375.0 Z" fill="#fff"/>
<path d="M534.8,441.8 L543.6,441.8"/>
<path d="M538.8,371.9 Q536.4,359.8 523.0,362.4 Q529.2,366.5 538.8,373.5 Z" fill="#fff"/>
<path d="M538.8,371.9 Q538.6,359.4 552.4,359.3 Q547.2,364.6 538.8,373.5 Z" fill="#fff"/>
<path d="M538.8,371.9 Q527.6,366.8 522.0,379.2 Q528.9,376.6 538.8,373.5 Z" fill="#fff"/>
<path d="M538.8,371.9 Q550.0,365.8 556.6,378.2 Q549.4,376.0 538.8,373.5 Z" fill="#fff"/>
<path d="M538.8,371.9 Q548.0,375.4 544.0,385.5 Q541.7,380.2 538.8,373.5 Z" fill="#fff"/>
<path d="M482.8,317.2L482.8,330.8L486.4,330.8L489.2,328.4L490.1,324.0L489.2,319.6L486.4,317.2L482.8,317.2M496.3,317.2L496.3,330.8M493.8,317.2L498.9,317.2M493.8,330.8L498.9,330.8M502.5,330.8L502.5,317.2L506.8,317.2L508.7,318.8L508.7,322.1L506.8,323.7L502.5,323.7M505.3,323.7L509.5,330.8M519.1,317.2L512.9,317.2L512.9,330.8L519.1,330.8M512.9,323.7L518.0,323.7M530.1,319.2L528.1,317.2L525.5,317.2L523.4,319.6L522.7,324.0L523.4,328.4L525.5,330.8L528.1,330.8L530.1,328.9M533.7,317.2L541.1,317.2M537.4,317.2L537.4,330.8M552.7,324.0L552.4,326.3L551.8,328.4L550.7,329.9L549.4,330.7L548.0,330.7L546.7,329.9L545.7,328.4L545.0,326.3L544.8,324.0L545.0,321.7L545.7,319.6L546.7,318.1L548.0,317.3L549.4,317.3L550.7,318.1L551.8,319.6L552.4,321.7L552.7,324.0M556.3,330.8L556.3,317.2L560.6,317.2L562.5,318.8L562.5,322.1L560.6,323.7L556.3,323.7M559.1,323.7L563.3,330.8M567.8,317.2L567.3,321.0M578.6,318.8L576.8,317.2L573.7,317.2L572.1,319.2L572.6,322.0L575.4,324.0L578.1,325.6L578.8,328.4L577.2,330.8L573.6,330.8L572.0,329.0" fill="none" stroke="#4c4c4c" stroke-width="1.68" stroke-linecap="round" stroke-linejoin="round"/>
<path d="M512.7,338.9L510.6,336.9L507.9,336.9L505.6,339.3L504.9,343.7L505.6,348.1L507.9,350.5L510.6,350.5L512.7,348.6M516.5,350.5L520.7,336.9L524.8,350.5M518.2,345.1L523.2,345.1M528.7,336.9L528.7,350.5M528.7,336.9L533.2,336.9L535.0,338.3L535.0,341.8L533.2,343.3L528.7,343.3M533.2,343.3L535.6,344.8L535.8,348.9L534.0,350.5L528.7,350.5M542.3,336.9L542.3,350.5M539.6,336.9L545.0,336.9M539.6,350.5L545.0,350.5M548.8,350.5L548.8,336.9L556.6,350.5L556.6,336.9" fill="none" stroke="#4c4c4c" stroke-width="1.68" stroke-linecap="round" stroke-linejoin="round"/>
<path d="M495.0,342.5 L502.5,343.0"/>
<path d="M560.3,339.4 L567.7,338.9"/>
<path d="M590.2,402.0 L566.8,415.5 L601.3,440.2 L639.4,408.2 L622.0,400.0"/>
<path d="M590.2,402.0 L591.4,387.2 L621.0,399.5 L622.2,425.0"/>
<path d="M611.0,390.5 L614.0,391.5 L639.4,408.2"/>
<path d="M590.2,402.0 L601.0,404.0 L621.0,406.0"/>
<path d="M650.4,273.3 L668.0,252.7 L724.9,294.9 L711.2,315.5 L650.4,273.3"/>
<path d="M651.4,276.3 L653.3,291.0 L710.2,332.2"/>
<path d="M710.2,317.5 L733.7,317.5 L735.7,332.2 L710.2,332.2 L710.2,317.5"/>
<path d="M724.9,294.9 L733.7,317.5"/>
<path d="M666.5,261.4L660.1,270.3M666.5,261.4L669.3,263.4L669.7,265.1L668.0,267.4L666.2,267.6L663.5,265.6M666.2,267.6L667.0,269.6L665.2,272.4L663.3,272.7L660.1,270.3M666.0,274.6L675.0,267.5L671.1,278.2M669.6,271.8L672.6,273.9M679.1,270.5L683.9,273.9M681.5,272.2L675.1,281.1M685.5,275.0L679.1,284.0M690.2,278.4L683.8,287.4M682.3,279.5L687.0,282.9M685.4,288.5L691.8,279.6L694.5,281.5L695.0,283.5L693.5,285.6L691.5,285.8L688.7,283.9M690.5,285.2L689.9,291.7M699.6,291.9L698.3,293.4L696.9,294.4L695.5,294.9L694.3,294.8L693.4,294.2L693.0,293.1L693.0,291.6L693.6,289.9L694.5,288.3L695.8,286.9L697.2,285.9L698.6,285.3L699.8,285.4L700.7,286.0L701.1,287.2L701.1,288.6L700.5,290.3L699.6,291.9M706.3,296.7L705.0,298.2L703.6,299.2L702.2,299.7L701.0,299.6L700.1,299.0L699.7,297.9L699.7,296.4L700.2,294.7L701.2,293.1L702.4,291.7L703.8,290.6L705.2,290.1L706.4,290.2L707.3,290.8L707.8,292.0L707.7,293.4L707.2,295.1L706.3,296.7M704.6,302.3L711.5,293.7L710.0,301.0L716.4,297.3L710.4,306.5" fill="none" stroke="#4c4c4c" stroke-width="1.3" stroke-linecap="round" stroke-linejoin="round"/>
<path d="M632.7,351.8 L676.9,331.2 L721.0,351.8"/>
<path d="M639.6,351.8 L640.6,373.3 L669.0,373.3"/>
<path d="M669.0,372.5 L716.0,368.0"/>
<path d="M716.0,351.8 L717.0,368.0"/>
<path d="M632.1,362.5 C632.2,363.7 631.9,367.6 632.6,370.0 C633.3,372.5 634.6,375.0 636.4,377.3 C638.1,379.5 640.4,381.7 643.0,383.6 C645.6,385.6 648.8,387.3 652.2,388.8 C655.5,390.2 659.3,391.4 663.2,392.3 C667.0,393.1 671.2,393.7 675.3,393.9 C679.3,394.1 683.6,394.0 687.6,393.6 C691.7,393.1 695.8,392.3 699.5,391.3 C703.2,390.2 706.8,388.8 709.9,387.2 C713.1,385.6 716.0,383.7 718.3,381.6 C720.7,379.6 722.6,377.3 724.0,374.9 C725.4,372.6 726.3,368.8 726.7,367.5"/>
<path d="M636.1,374.1 C636.6,374.8 637.5,376.7 639.1,377.9 C640.7,379.0 642.9,380.2 645.6,381.2 C648.3,382.2 651.6,383.1 655.1,383.8 C658.6,384.5 662.6,385.1 666.7,385.4 C670.7,385.8 675.2,386.0 679.4,386.0 C683.6,386.0 688.1,385.8 692.1,385.4 C696.2,385.1 700.2,384.5 703.7,383.8 C707.2,383.1 710.5,382.2 713.2,381.2 C715.9,380.2 718.1,379.0 719.7,377.9 C721.3,376.7 722.2,374.8 722.7,374.1"/>
<path d="M637.4,376.4 L634.0,372.4"/>
<path d="M639.7,378.3 L636.5,376.6"/>
<path d="M642.9,380.1 L640.0,380.5"/>
<path d="M647.1,381.7 L644.5,384.1"/>
<path d="M652.0,383.1 L649.8,387.1"/>
<path d="M657.6,384.3 L655.9,389.7"/>
<path d="M663.8,385.1 L662.6,391.6"/>
<path d="M670.4,385.7 L669.6,392.9"/>
<path d="M677.1,386.0 L676.9,393.5"/>
<path d="M683.9,385.9 L684.3,393.3"/>
<path d="M690.7,385.6 L691.6,392.5"/>
<path d="M697.1,384.9 L698.5,391.0"/>
<path d="M703.1,383.9 L705.0,388.9"/>
<path d="M708.5,382.7 L710.8,386.2"/>
<path d="M713.2,381.2 L715.9,382.9"/>
<path d="M717.1,379.5 L720.1,379.2"/>
<path d="M720.0,377.7 L723.3,375.2"/>
<path d="M634.0,366.0 C634.3,367.5 635.0,372.7 636.0,375.0 C637.0,377.3 639.3,379.2 640.0,380.0" stroke-width="3"/>
<path d="M644.5,355.5L644.5,344.5L648.1,344.5L649.8,345.8L649.8,348.5L648.1,349.8L644.5,349.8M652.8,355.5L652.8,344.5L656.4,344.5L658.1,345.8L658.1,348.5L656.4,349.8L652.8,349.8M655.2,349.8L658.7,355.5M668.3,350.0L668.1,351.9L667.5,353.5L666.6,354.8L665.5,355.4L664.4,355.4L663.3,354.8L662.4,353.5L661.8,351.9L661.6,350.0L661.8,348.1L662.4,346.5L663.3,345.2L664.4,344.6L665.5,344.6L666.6,345.2L667.5,346.5L668.1,348.1L668.3,350.0M677.6,346.1L675.9,344.5L673.7,344.5L671.9,346.5L671.4,350.0L671.9,353.5L673.7,355.5L676.1,355.5L677.9,353.9L677.9,350.6L675.2,350.6M681.1,355.5L681.1,344.5L684.7,344.5L686.4,345.8L686.4,348.5L684.7,349.8L681.1,349.8M683.5,349.8L687.0,355.5M689.9,355.5L693.2,344.5L696.6,355.5M691.2,351.1L695.3,351.1M699.7,355.5L700.2,344.5L703.5,351.3L706.7,344.5L707.3,355.5" fill="none" stroke="#4c4c4c" stroke-width="1.44" stroke-linecap="round" stroke-linejoin="round"/>
<path d="M641.6,357.0L641.6,367.0L644.3,367.0L646.5,365.2L647.2,362.0L646.5,358.8L644.3,357.0L641.6,357.0M651.8,357.0L651.8,367.0M649.9,357.0L653.7,357.0M649.9,367.0L653.7,367.0M656.5,367.0L656.5,357.0L659.7,357.0L661.2,358.2L661.2,360.6L659.7,361.8L656.5,361.8M658.6,361.8L661.8,367.0M669.0,357.0L664.3,357.0L664.3,367.0L669.0,367.0M664.3,361.8L668.2,361.8M677.3,358.5L675.8,357.0L673.9,357.0L672.3,358.8L671.7,362.0L672.3,365.2L673.9,367.0L675.8,367.0L677.3,365.6M680.0,357.0L685.7,357.0M682.8,357.0L682.8,367.0M694.4,362.0L694.2,363.7L693.7,365.2L692.9,366.3L691.9,366.9L690.9,366.9L689.9,366.3L689.1,365.2L688.6,363.7L688.4,362.0L688.6,360.3L689.1,358.8L689.9,357.7L690.9,357.1L691.9,357.1L692.9,357.7L693.7,358.8L694.2,360.3L694.4,362.0M697.1,367.0L697.1,357.0L700.4,357.0L701.8,358.2L701.8,360.6L700.4,361.8L697.1,361.8M699.2,361.8L702.4,367.0M705.8,357.0L705.4,359.8M713.9,358.2L712.6,357.0L710.3,357.0L709.1,358.5L709.4,360.5L711.5,362.0L713.6,363.2L714.1,365.2L712.9,367.0L710.2,367.0L709.0,365.7" fill="none" stroke="#4c4c4c" stroke-width="1.44" stroke-linecap="round" stroke-linejoin="round"/>
<path d="M669.0,372.4L669.0,381.2M675.4,372.4L675.4,381.2M669.0,376.8L675.4,376.8M685.4,376.8L685.2,378.3L684.6,379.6L683.7,380.6L682.6,381.1L681.4,381.1L680.2,380.6L679.3,379.6L678.7,378.3L678.5,376.8L678.7,375.3L679.3,374.0L680.2,373.0L681.4,372.5L682.6,372.5L683.7,373.0L684.6,374.0L685.2,375.3L685.4,376.8M688.5,372.4L688.5,379.0L689.9,381.2L693.3,381.2L694.6,379.0L694.6,372.4M703.5,373.5L701.9,372.4L699.2,372.4L697.9,373.7L698.3,375.5L700.7,376.8L703.1,377.9L703.7,379.6L702.3,381.2L699.1,381.2L697.8,380.1M712.2,372.4L706.8,372.4L706.8,381.2L712.2,381.2M706.8,376.6L711.2,376.6" fill="none" stroke="#4c4c4c" stroke-width="1.44" stroke-linecap="round" stroke-linejoin="round"/>
<path d="M786.9,325.8 L803.0,335.2 L855.9,334.3"/>
<path d="M786.9,325.8 L788.6,373.5 L838.0,372.7"/>
<path d="M791.1,373.5 L791.1,399.1 L901.9,395.7"/>
<path d="M832.9,363.3 L867.8,320.7 L903.6,363.3 L832.9,363.3"/>
<path d="M838.0,364.1 L838.0,399.1"/>
<path d="M901.1,363.3 L901.1,396.5"/>
<path d="M769.7,328.0 Q771.7,365.9 770.9,407.6 L778.1,407.6 Q778.2,365.9 773.3,328.0 Z" fill="#fff"/>
<path d="M769.4,407.6 L779.6,407.6"/>
<path d="M771.5,324.1 Q768.6,309.1 752.0,312.4 Q759.6,317.5 771.5,326.1 Z" fill="#fff"/>
<path d="M771.5,324.1 Q771.3,308.6 788.4,308.5 Q782.0,315.1 771.5,326.1 Z" fill="#fff"/>
<path d="M771.5,324.1 Q757.6,317.8 750.7,333.2 Q759.2,330.0 771.5,326.1 Z" fill="#fff"/>
<path d="M771.5,324.1 Q785.3,316.6 793.6,331.9 Q784.6,329.2 771.5,326.1 Z" fill="#fff"/>
<path d="M771.5,324.1 Q782.9,328.5 778.0,341.0 Q775.1,334.4 771.5,326.1 Z" fill="#fff"/>
<path d="M799.1,349.2 Q798.6,376.9 796.0,407.6 L801.6,407.6 Q803.7,376.9 801.9,349.2 Z" fill="#fff"/>
<path d="M794.5,407.6 L803.1,407.6"/>
<path d="M800.5,346.2 Q798.2,334.6 785.5,337.2 Q791.3,341.1 800.5,347.7 Z" fill="#fff"/>
<path d="M800.5,346.2 Q800.4,334.3 813.5,334.2 Q808.5,339.3 800.5,347.7 Z" fill="#fff"/>
<path d="M800.5,346.2 Q789.8,341.3 784.5,353.2 Q791.0,350.7 800.5,347.7 Z" fill="#fff"/>
<path d="M800.5,346.2 Q811.1,340.4 817.5,352.2 Q810.6,350.1 800.5,347.7 Z" fill="#fff"/>
<path d="M800.5,346.2 Q809.2,349.6 805.5,359.2 Q803.2,354.1 800.5,347.7 Z" fill="#fff"/>
<path d="M890.8,326.1 Q885.5,362.9 877.5,403.3 L884.5,403.3 Q891.8,362.9 894.2,326.1 Z" fill="#fff"/>
<path d="M876.0,403.3 L886.0,403.3"/>
<path d="M892.5,322.4 Q889.7,308.0 873.8,311.1 Q881.0,316.0 892.5,324.3 Z" fill="#fff"/>
<path d="M892.5,322.4 Q892.3,307.5 908.8,307.4 Q902.5,313.7 892.5,324.3 Z" fill="#fff"/>
<path d="M892.5,322.4 Q879.1,316.3 872.5,331.1 Q880.7,328.0 892.5,324.3 Z" fill="#fff"/>
<path d="M892.5,322.4 Q905.8,315.1 913.8,329.9 Q905.1,327.3 892.5,324.3 Z" fill="#fff"/>
<path d="M892.5,322.4 Q903.4,326.6 898.8,338.6 Q895.9,332.3 892.5,324.3 Z" fill="#fff"/>
<path d="M807.3,303.6L807.3,315.6L811.4,315.6L814.6,313.4L815.6,309.6L814.6,305.8L811.4,303.6L807.3,303.6M822.5,303.6L822.5,315.6M819.7,303.6L825.4,303.6M819.7,315.6L825.4,315.6M829.5,315.6L829.5,303.6L837.7,315.6L837.7,303.6M844.6,303.6L844.6,315.6M841.8,303.6L847.6,303.6M841.8,315.6L847.6,315.6M851.6,315.6L851.6,303.6L859.9,315.6L859.9,303.6M872.3,305.4L870.1,303.6L867.2,303.6L864.7,305.8L864.0,309.6L864.7,313.4L867.2,315.6L870.4,315.6L872.6,313.8L872.6,310.2L869.1,310.2" fill="none" stroke="#4c4c4c" stroke-width="1.68" stroke-linecap="round" stroke-linejoin="round"/>
<path d="M815.8,321.5L815.8,330.9M823.0,321.5L823.0,330.9M815.8,326.2L823.0,326.2M826.6,330.9L830.4,321.5L834.3,330.9M828.1,327.1L832.8,327.1M837.9,321.5L837.9,330.9L843.4,330.9M847.0,321.5L847.0,330.9L852.5,330.9" fill="none" stroke="#4c4c4c" stroke-width="1.68" stroke-linecap="round" stroke-linejoin="round"/>
<path d="M682.8,218.7 L695.6,204.5 L709.8,218.7"/>
<path d="M685.7,217.8 L708.4,217.8"/>
<path d="M685.7,217.8 L685.7,237.2 L708.4,237.2 L708.4,217.8"/>
<path d="M687.9,223.6L690.0,220.8L693.3,220.5L695.6,223.0L695.2,226.4L687.5,234.5L696.1,234.5M706.6,227.5L706.3,230.2L705.5,232.4L704.2,234.0L702.8,234.5L701.3,234.0L700.1,232.4L699.2,230.2L698.9,227.5L699.2,224.8L700.1,222.6L701.3,221.0L702.8,220.5L704.2,221.0L705.5,222.6L706.3,224.8L706.6,227.5" fill="none" stroke="#4c4c4c" stroke-width="1.4" stroke-linecap="round" stroke-linejoin="round"/>
<path d="M704.1,188.3 L718.4,175.5 L734.0,188.3"/>
<path d="M707.0,187.4 L731.7,187.4"/>
<path d="M707.0,187.4 L707.0,205.3 L731.7,205.3 L731.7,187.4"/>
<path d="M711.9,192.7L713.8,190.2L716.9,189.9L719.0,192.2L718.6,195.3L711.5,202.8L719.5,202.8M722.7,192.5L724.9,189.9L724.9,202.8M722.1,202.8L727.5,202.8" fill="none" stroke="#4c4c4c" stroke-width="1.4" stroke-linecap="round" stroke-linejoin="round"/>
<path d="M728.9,168.4 L745.3,155.3 L758.1,168.4"/>
<path d="M732.6,167.6 L756.1,167.6"/>
<path d="M732.6,167.6 L732.6,183.2 L756.1,183.2 L756.1,167.6"/>
<path d="M736.7,172.3L738.4,170.0L741.1,169.8L742.9,171.8L742.6,174.5L736.4,181.0L743.3,181.0M745.9,172.3L747.6,170.0L750.3,169.8L752.1,171.8L751.8,174.5L745.6,181.0L752.5,181.0" fill="none" stroke="#4c4c4c" stroke-width="1.4" stroke-linecap="round" stroke-linejoin="round"/>
<path d="M759.5,161.0 L773.8,148.5 L789.4,161.0"/>
<path d="M762.4,161.0 L787.4,161.0"/>
<path d="M762.4,161.0 L762.4,177.5 L787.4,177.5 L787.4,161.0"/>
<path d="M767.1,165.9L768.9,163.5L771.8,163.3L773.7,165.4L773.3,168.3L766.8,175.2L774.1,175.2M776.9,164.7L779.1,163.3L781.8,163.3L783.3,165.4L782.4,168.3L779.5,169.2L782.4,169.8L783.6,172.2L782.2,174.7L779.1,175.2L776.5,174.0" fill="none" stroke="#4c4c4c" stroke-width="1.4" stroke-linecap="round" stroke-linejoin="round"/>
<path d="M790.2,149.7 L805.0,136.3 L822.0,149.7"/>
<path d="M793.6,149.1 L819.2,149.1"/>
<path d="M793.6,149.1 L793.6,163.9 L819.2,163.9 L819.2,149.1"/>
<path d="M798.8,153.5L800.5,151.4L803.2,151.2L804.9,153.1L804.6,155.6L798.5,161.8L805.4,161.8M812.7,161.8L812.7,151.2L807.6,158.4L814.6,158.4" fill="none" stroke="#4c4c4c" stroke-width="1.4" stroke-linecap="round" stroke-linejoin="round"/>
<path d="M918.6,171.2 L934.3,154.8 L949.9,171.2"/>
<path d="M921.5,169.5 L946.5,169.5"/>
<path d="M921.5,169.5 L921.5,183.2 L946.5,183.2 L946.5,169.5"/>
<path d="M926.6,173.6L928.3,171.6L931.0,171.4L932.8,173.2L932.5,175.6L926.2,181.3L933.3,181.3M941.8,175.2L939.1,176.3L936.0,175.0L936.4,172.0L939.6,171.4L941.9,173.4L941.9,176.3L941.2,181.3" fill="none" stroke="#4c4c4c" stroke-width="1.4" stroke-linecap="round" stroke-linejoin="round"/>
<path d="M941.4,190.0 L959.8,176.1 L975.5,190.0"/>
<path d="M947.0,189.4 L971.2,189.4"/>
<path d="M947.0,189.4 L947.0,205.3 L971.2,205.3 L971.2,189.4"/>
<path d="M951.9,193.0L954.1,191.6L956.7,191.6L958.1,193.7L957.3,196.4L954.4,197.3L957.3,197.9L958.4,200.2L957.0,202.6L954.1,203.1L951.5,201.9M966.7,197.3L966.4,199.5L965.7,201.4L964.7,202.6L963.5,203.1L962.3,202.6L961.3,201.4L960.6,199.5L960.4,197.3L960.6,195.2L961.3,193.3L962.3,192.1L963.5,191.6L964.7,192.1L965.7,193.3L966.4,195.2L966.7,197.3" fill="none" stroke="#4c4c4c" stroke-width="1.4" stroke-linecap="round" stroke-linejoin="round"/>
<path d="M831.1,143.4 L839.1,128.6 L915.2,130.6 L920.9,143.4 L831.1,143.4"/>
<path d="M834.8,142.8 L834.8,163.9 L916.4,163.9 L916.4,142.8"/>
<path d="M853.9,143.4 L853.9,163.9"/>
<path d="M875.5,143.4 L875.5,163.9"/>
<path d="M895.1,143.4 L895.1,163.9"/>
<path d="M837.2,150.1L838.8,147.7L841.4,147.5L843.2,149.7L842.9,152.5L836.8,159.5L843.6,159.5M851.8,147.5L846.7,147.5L846.3,152.9L849.1,152.1L851.8,153.7L852.2,157.3L850.2,159.5L847.1,159.5L845.8,158.3" fill="none" stroke="#4c4c4c" stroke-width="1.2" stroke-linecap="round" stroke-linejoin="round"/>
<path d="M857.5,150.1L859.2,147.7L861.8,147.5L863.6,149.7L863.2,152.5L857.2,159.5L864.0,159.5M871.7,147.9L869.2,147.5L867.1,150.5L866.2,154.9L867.3,158.9L869.7,159.5L872.1,157.8L872.1,154.5L869.5,153.0L866.6,154.7" fill="none" stroke="#4c4c4c" stroke-width="1.2" stroke-linecap="round" stroke-linejoin="round"/>
<path d="M878.1,150.1L879.8,147.7L882.4,147.5L884.2,149.7L883.8,152.5L877.8,159.5L884.6,159.5M886.8,147.5L893.1,147.5L889.0,159.5M888.1,153.7L892.3,153.7" fill="none" stroke="#4c4c4c" stroke-width="1.2" stroke-linecap="round" stroke-linejoin="round"/>
<path d="M898.6,150.1L900.2,147.7L902.8,147.5L904.6,149.7L904.3,152.5L898.2,159.5L905.0,159.5M912.6,150.5L912.4,151.8L911.7,152.8L910.8,153.4L909.7,153.4L908.7,152.8L908.1,151.8L907.8,150.5L908.1,149.2L908.7,148.2L909.7,147.6L910.8,147.6L911.7,148.2L912.4,149.2L912.6,150.5M913.2,156.4L913.0,157.7L912.1,158.8L910.9,159.4L909.6,159.4L908.4,158.8L907.5,157.7L907.2,156.4L907.5,155.0L908.4,153.9L909.6,153.3L910.9,153.3L912.1,153.9L913.0,155.0L913.2,156.4" fill="none" stroke="#4c4c4c" stroke-width="1.2" stroke-linecap="round" stroke-linejoin="round"/>
<path d="M802.1,199.5L800.2,197.4L797.7,197.4L795.7,200.0L795.0,204.5L795.7,209.0L797.7,211.6L800.2,211.6L802.1,209.6M807.5,211.6L811.3,197.4L815.1,211.6M809.0,205.9L813.6,205.9M820.5,197.4L820.5,211.6M820.5,197.4L824.7,197.4L826.3,198.8L826.3,202.5L824.7,204.1L820.5,204.1M824.7,204.1L826.8,205.6L827.0,209.9L825.4,211.6L820.5,211.6M834.9,197.4L834.9,211.6M832.5,197.4L837.4,197.4M832.5,211.6L837.4,211.6M842.8,211.6L842.8,197.4L849.9,211.6L849.9,197.4M861.6,199.1L859.8,197.4L856.9,197.4L855.4,199.5L855.8,202.4L858.5,204.5L861.1,206.2L861.8,209.0L860.3,211.6L856.8,211.6L855.3,209.8" fill="none" stroke="#4c4c4c" stroke-width="1.68" stroke-linecap="round" stroke-linejoin="round"/>
<path d="M634.6,39.1L634.6,49.7L640.1,49.7M651.3,44.4L651.1,46.2L650.4,47.8L649.4,49.0L648.1,49.6L646.8,49.6L645.5,49.0L644.5,47.8L643.8,46.2L643.6,44.4L643.8,42.6L644.5,41.0L645.5,39.8L646.8,39.2L648.1,39.2L649.4,39.8L650.4,41.0L651.1,42.6L651.3,44.4M654.8,39.1L657.0,49.7L659.4,42.3L661.9,49.7L664.2,39.1M675.1,49.7L675.1,39.1L679.2,39.1L681.1,40.4L681.1,42.9L679.2,44.2L675.1,44.2M677.8,44.2L681.9,49.7M692.9,44.4L692.6,46.2L692.0,47.8L690.9,49.0L689.7,49.6L688.3,49.6L687.1,49.0L686.1,47.8L685.4,46.2L685.2,44.4L685.4,42.6L686.1,41.0L687.1,39.8L688.3,39.2L689.7,39.2L690.9,39.8L692.0,41.0L692.6,42.6L692.9,44.4M696.4,49.7L696.4,39.1L700.6,39.1L702.4,40.4L702.4,42.9L700.6,44.2L696.4,44.2M712.0,39.1L705.9,39.1L705.9,49.7L712.0,49.7M705.9,44.2L710.9,44.2M721.9,40.4L720.1,39.1L717.2,39.1L715.6,40.7L716.1,42.8L718.8,44.4L721.4,45.7L722.1,47.8L720.6,49.7L717.0,49.7L715.5,48.3" fill="none" stroke="#4c4c4c" stroke-width="1.56" stroke-linecap="round" stroke-linejoin="round"/>
<path d="M645.2,70.9L645.2,59.2L649.2,59.2L650.9,60.6L650.9,63.4L649.2,64.8L645.2,64.8M647.8,64.8L651.7,70.9M662.1,65.1L661.9,67.1L661.2,68.8L660.3,70.1L659.1,70.8L657.8,70.8L656.6,70.1L655.6,68.8L655.0,67.1L654.8,65.1L655.0,63.0L655.6,61.3L656.6,60.0L657.8,59.3L659.1,59.3L660.3,60.0L661.2,61.3L661.9,63.0L662.1,65.0M672.2,61.0L670.4,59.2L668.0,59.2L666.0,61.3L665.4,65.1L666.0,68.8L668.0,70.9L670.4,70.9L672.2,69.3M675.5,59.2L675.5,70.9M681.6,59.2L675.5,66.5M677.6,64.5L682.0,70.9M692.1,59.2L694.2,70.9L696.5,62.7L698.8,70.9L701.0,59.2M704.3,70.9L708.0,59.2L711.6,70.9M705.8,66.2L710.1,66.2M714.9,59.2L714.9,70.9L720.2,70.9M723.5,59.2L723.5,70.9L728.7,70.9" fill="none" stroke="#4c4c4c" stroke-width="1.56" stroke-linecap="round" stroke-linejoin="round"/>
<path d="M658.5,94.2L662.2,83.1L665.8,94.2M660.0,89.8L664.4,89.8M669.2,94.2L669.2,83.1L673.1,83.1L674.9,84.4L674.9,87.1L673.1,88.5L669.2,88.5M671.8,88.5L675.7,94.2M685.6,84.8L683.8,83.1L681.4,83.1L679.4,85.1L678.8,88.7L679.4,92.2L681.4,94.2L683.8,94.2L685.6,92.7M688.9,83.1L688.9,94.2M695.7,83.1L695.7,94.2M688.9,88.7L695.7,88.7M704.8,83.1L699.1,83.1L699.1,94.2L704.8,94.2M699.1,88.5L703.8,88.5M708.2,94.2L708.2,83.1L712.2,83.1L713.9,84.4L713.9,87.1L712.2,88.5L708.2,88.5M710.8,88.5L714.7,94.2M717.8,83.1L721.2,88.7L724.7,83.1M721.2,88.7L721.2,94.2" fill="none" stroke="#4c4c4c" stroke-width="1.56" stroke-linecap="round" stroke-linejoin="round"/>
<path d="M735.4,92.9 C736.0,88.7 739.4,76.2 739.3,67.7 C739.2,59.2 735.7,46.3 735.0,42.0"/>
<path d="M730,31.9 L727.4,43.9 L738.8,42.5 Z" fill="#3a3a3a"/>
<path d="M791.0,57.1L791.0,70.4M798.2,57.1L798.2,70.4M791.0,63.8L798.2,63.8M804.3,57.1L804.3,70.4M801.8,57.1L806.8,57.1M801.8,70.4L806.8,70.4M817.7,59.1L815.8,57.1L813.2,57.1L811.1,59.5L810.4,63.8L811.1,68.0L813.2,70.4L816.0,70.4L818.0,68.4L818.0,64.4L814.9,64.4M821.8,57.1L821.8,70.4M829.0,57.1L829.0,70.4M821.8,63.8L829.0,63.8M840.1,70.4L840.1,57.1L844.3,57.1L846.2,58.7L846.2,61.9L844.3,63.5L840.1,63.5M842.9,63.5L847.0,70.4M858.1,63.8L857.9,66.0L857.2,68.0L856.2,69.5L854.9,70.3L853.6,70.3L852.3,69.5L851.2,68.0L850.6,66.0L850.3,63.8L850.6,61.5L851.2,59.5L852.3,58.0L853.6,57.2L854.9,57.2L856.2,58.0L857.2,59.5L857.9,61.5L858.1,63.8M861.7,70.4L861.7,57.1L865.9,57.1L867.8,58.7L867.8,61.9L865.9,63.5L861.7,63.5M877.5,57.1L871.4,57.1L871.4,70.4L877.5,70.4M871.4,63.5L876.4,63.5M887.6,58.7L885.8,57.1L882.8,57.1L881.2,59.1L881.7,61.8L884.5,63.8L887.1,65.3L887.8,68.0L886.2,70.4L882.7,70.4L881.1,68.7" fill="none" stroke="#4c4c4c" stroke-width="1.56" stroke-linecap="round" stroke-linejoin="round"/>
<path d="M787.0,63.8 C787.3,61.1 787.0,53.5 789.0,48.0 C791.0,42.5 797.3,33.8 799.0,31.0"/>
<path d="M804.3,25.3 L795.5,30.5 L801.8,35.3 Z" fill="#3a3a3a"/>
<path d="M956.0,281.4 L972.6,263.9 L1009.0,332.7"/>
<path d="M956.0,281.4 L992.4,321.1"/>
<path d="M956.0,281.4 L955.4,319.5 L980.9,359.2"/>
<path d="M980.9,334.4 L992.4,321.1 L1009.0,332.7"/>
<path d="M980.9,334.4 L980.9,359.2 L1009.0,357.5 L1009.0,332.7"/>
<path d="M993.0,269.6L991.5,268.2L988.9,268.2L987.6,269.9L988.0,272.3L990.4,274.0L992.6,275.4L993.2,277.7L991.9,279.8L988.8,279.8L987.5,278.3M996.3,268.2L1002.5,268.2M999.4,268.2L999.4,279.8M1005.6,279.8L1008.9,268.2L1012.2,279.8M1006.9,275.2L1010.9,275.2M1020.5,268.2L1015.3,268.2L1015.3,279.8M1015.3,273.8L1019.6,273.8M1028.8,268.2L1023.6,268.2L1023.6,279.8M1023.6,273.8L1027.8,273.8" fill="none" stroke="#4c4c4c" stroke-width="1.56" stroke-linecap="round" stroke-linejoin="round"/>
<path d="M997.4,286.4L997.4,298.0M1002.8,286.4L1002.8,298.0M997.4,292.2L1002.8,292.2M1011.2,292.2L1011.0,294.2L1010.5,295.9L1009.8,297.2L1008.8,297.9L1007.8,297.9L1006.9,297.2L1006.1,295.9L1005.6,294.2L1005.4,292.2L1005.6,290.2L1006.1,288.5L1006.9,287.2L1007.8,286.5L1008.8,286.5L1009.8,287.2L1010.5,288.5L1011.0,290.2L1011.2,292.2M1013.9,286.4L1013.9,295.1L1015.0,298.0L1017.8,298.0L1019.0,295.1L1019.0,286.4M1026.4,287.8L1025.1,286.4L1022.9,286.4L1021.7,288.1L1022.1,290.5L1024.1,292.2L1026.1,293.6L1026.6,295.9L1025.4,298.0L1022.8,298.0L1021.6,296.5M1033.8,286.4L1029.2,286.4L1029.2,298.0L1033.8,298.0M1029.2,292.0L1033.0,292.0" fill="none" stroke="#4c4c4c" stroke-width="1.56" stroke-linecap="round" stroke-linejoin="round"/>
<path d="M905.3,433.1 Q894.5,436.8 894.4,427.4 Q883.0,425.2 890.0,417.6 Q882.5,410.4 893.7,407.7 Q893.1,398.2 904.1,401.4 Q910.6,393.6 917.1,401.4 Q928.1,398.2 927.5,407.7 Q938.7,410.4 931.2,417.6 Q938.2,425.2 926.8,427.4 Q926.7,436.8 915.9,433.1"/>
<path d="M905.3,433.1 Q908.6,433.7 907.6,447.0"/>
<path d="M915.9,433.1 Q914.6,433.7 915.6,447.0"/>
<path d="M905.6,447.0 L917.6,447.0"/>
<path d="M912.5,480.0 Q901.3,482.8 901.2,475.5 Q889.4,473.8 896.6,467.9 Q888.8,462.3 900.5,460.2 Q899.8,452.9 911.3,455.4 Q918.0,449.3 924.8,455.4 Q936.3,452.9 935.6,460.2 Q947.3,462.3 939.5,467.9 Q946.7,473.8 934.9,475.5 Q934.8,482.8 923.6,480.0"/>
<path d="M912.5,480.0 Q916.0,480.4 915.0,492.7"/>
<path d="M923.6,480.0 Q922.0,480.4 923.0,492.7"/>
<path d="M913.0,492.7 L925.0,492.7"/>
<path d="M909.6,531.5 Q898.6,535.0 898.6,525.9 Q887.1,523.8 894.1,516.5 Q886.5,509.5 897.9,506.8 Q897.2,497.7 908.4,500.8 Q915.0,493.2 921.5,500.8 Q932.7,497.7 932.0,506.8 Q943.4,509.5 935.8,516.5 Q942.8,523.8 931.3,525.9 Q931.3,535.0 920.3,531.5"/>
<path d="M909.6,531.5 Q913.0,532.0 912.0,547.8"/>
<path d="M920.3,531.5 Q919.0,532.0 920.0,547.8"/>
<path d="M910.0,547.8 L922.0,547.8"/>
<path d="M883.8,586.4 Q872.9,590.1 872.9,580.7 Q861.4,578.5 868.4,571.0 Q860.8,563.8 872.2,561.0 Q871.5,551.7 882.7,554.8 Q889.2,547.0 895.7,554.8 Q906.9,551.7 906.2,561.0 Q917.6,563.8 910.0,571.0 Q917.0,578.5 905.5,580.7 Q905.5,590.1 894.6,586.4"/>
<path d="M883.8,586.4 Q887.2,587.0 886.2,599.3"/>
<path d="M894.6,586.4 Q893.2,587.0 894.2,599.3"/>
<path d="M884.2,599.3 L896.2,599.3"/>
<path d="M990.8,420.4L990.8,435.3M990.8,420.4L995.1,420.4L996.8,421.9L996.8,425.8L995.1,427.4L990.8,427.4M995.1,427.4L997.3,429.0L997.5,433.5L995.9,435.3L990.8,435.3M1003.6,420.4L1003.6,435.3M1001.1,420.4L1006.2,420.4M1001.1,435.3L1006.2,435.3M1009.8,420.4L1009.8,435.3M1009.8,420.4L1014.0,420.4L1015.7,421.9L1015.7,425.8L1014.0,427.4L1009.8,427.4M1014.0,427.4L1016.3,429.0L1016.5,433.5L1014.8,435.3L1009.8,435.3M1020.1,420.4L1020.1,435.3L1025.7,435.3M1035.5,420.4L1029.3,420.4L1029.3,435.3L1035.5,435.3M1029.3,427.6L1034.4,427.6" fill="none" stroke="#4c4c4c" stroke-width="1.56" stroke-linecap="round" stroke-linejoin="round"/>
<path d="M997.4,451.9L997.4,440.3L1001.7,440.3L1003.6,441.7L1003.6,444.5L1001.7,445.9L997.4,445.9M1013.5,440.3L1007.3,440.3L1007.3,451.9L1013.5,451.9M1007.3,445.9L1012.4,445.9M1017.1,451.9L1021.1,440.3L1025.1,451.9M1018.7,447.3L1023.5,447.3M1028.7,440.3L1028.7,451.9M1035.3,440.3L1028.7,447.5M1031.0,445.5L1035.7,451.9" fill="none" stroke="#4c4c4c" stroke-width="1.56" stroke-linecap="round" stroke-linejoin="round"/>
<path d="M1011.5,461.8 L1016.0,461.8 L1016.0,469.0 L1023.9,469.0 L1023.9,473.0 L1016.0,473.0 L1016.0,488.0 L1011.5,488.0 L1011.5,473.0 L1004.0,473.0 L1004.0,469.0 L1011.5,469.0Z"/>
<path d="M112.8,718.0 C124.9,714.9 158.9,706.2 185.2,699.6 C211.5,693.0 246.8,684.0 270.5,678.3 C294.2,672.6 309.1,669.3 327.3,665.5 C345.6,661.7 366.2,658.2 380.0,655.5 C393.8,652.8 399.9,650.8 410.0,649.0 C420.1,647.2 429.8,645.0 440.4,644.6 C451.0,644.2 463.0,645.7 473.8,646.7 C484.5,647.7 492.0,649.6 505.0,650.8 C518.0,652.0 533.0,652.0 552.0,654.0 C571.0,656.0 602.7,660.0 618.7,663.0 C634.7,666.0 637.8,669.2 648.0,672.0 C658.2,674.8 670.7,677.5 680.0,680.0 C689.3,682.5 686.1,683.6 704.0,687.3 C721.9,691.0 771.2,699.5 787.3,702.3 C803.4,705.1 798.5,703.7 800.7,704.0"/>
<path d="M442.0,640.7 L435.3,697.3"/>
<path d="M472.0,640.7 L477.0,697.3"/>
<path d="M441.5,644.0 L472.4,644.0"/>
<path d="M440.3,654.0 L473.3,654.0"/>
<path d="M439.1,664.0 L474.2,664.0"/>
<path d="M437.9,674.0 L475.1,674.0"/>
<path d="M436.7,684.0 L476.0,684.0"/>
<path d="M435.5,694.0 L476.9,694.0"/>
<path d="M388.7,717.3 C393.9,714.9 409.4,706.3 420.0,703.0 C430.6,699.7 440.3,697.8 452.0,697.3 C463.7,696.8 478.1,697.8 490.0,700.0 C501.9,702.2 518.1,708.9 523.7,710.7"/>
<path d="M402.0,744.0 C406.7,742.3 421.7,736.0 430.0,734.0 C438.3,732.0 442.8,732.8 452.0,732.3 C461.2,731.8 475.0,730.7 485.0,731.0 C495.0,731.3 507.5,733.5 512.0,734.0"/>
<path d="M388.7,717.3 L402.0,744.0"/>
<path d="M523.7,710.7 L512.0,734.0"/>
<path d="M399.8,715.4L405.7,729.5L409.9,718.9L415.9,728.6L419.5,713.7" fill="none" stroke="#4c4c4c" stroke-width="1.8" stroke-linecap="round" stroke-linejoin="round"/>
<path d="M432.0,713.6L421.7,714.4L422.8,728.0L433.0,727.1M422.2,720.9L430.6,720.2" fill="none" stroke="#4c4c4c" stroke-width="1.8" stroke-linecap="round" stroke-linejoin="round"/>
<path d="M435.0,712.3L435.8,724.8L446.3,724.1" fill="none" stroke="#4c4c4c" stroke-width="1.8" stroke-linecap="round" stroke-linejoin="round"/>
<path d="M462.3,710.9L459.0,709.0L454.6,709.1L451.0,711.6L450.0,715.9L451.2,720.2L455.0,722.6L459.4,722.5L462.6,720.5" fill="none" stroke="#4c4c4c" stroke-width="1.8" stroke-linecap="round" stroke-linejoin="round"/>
<path d="M480.0,714.4L479.6,716.9L478.3,719.1L476.4,720.7L474.0,721.6L471.4,721.6L469.1,720.7L467.1,719.1L465.8,716.9L465.4,714.4L465.8,711.8L467.1,709.6L469.0,708.0L471.4,707.1L474.0,707.1L476.4,708.0L478.3,709.6L479.6,711.8L480.0,714.4" fill="none" stroke="#4c4c4c" stroke-width="1.8" stroke-linecap="round" stroke-linejoin="round"/>
<path d="M479.5,721.7L481.3,708.0L488.0,716.8L495.4,708.5L496.2,722.3" fill="none" stroke="#4c4c4c" stroke-width="1.8" stroke-linecap="round" stroke-linejoin="round"/>
<path d="M507.0,712.9L497.7,712.3L496.7,726.9L506.0,727.5M497.2,719.3L504.8,719.8" fill="none" stroke="#4c4c4c" stroke-width="1.8" stroke-linecap="round" stroke-linejoin="round"/>
<path d="M513.7,711.5L512.7,723.6M512.4,726.9L512.3,727.9" fill="none" stroke="#4c4c4c" stroke-width="1.8" stroke-linecap="round" stroke-linejoin="round"/>
<path d="M428.7,737.0 L423.7,792.3"/>
<path d="M483.7,732.3 L490.3,792.3"/>
<path d="M423.7,792.3 L490.3,792.3"/>
<path d="M427.5,748.0 L485.5,748.0"/>
<path d="M426.8,756.0 L486.5,756.0"/>
<path d="M426.1,764.0 L487.4,764.0"/>
<path d="M425.4,772.0 L488.4,772.0"/>
<path d="M424.6,780.0 L489.4,780.0"/>
<path d="M423.9,788.0 L490.3,788.0"/>
<path d="M405.3,744.0 L423.7,792.3"/>
<path d="M508.7,740.7 L490.3,789.0"/>
<path d="M608.9,713.7 C615.5,715.2 618.2,711.4 622.2,706.1 C626.9,713.8 637.8,713.8 642.0,705.2 C648.0,715.9 661.6,715.9 666.7,708.9 C671.5,713.6 674.8,717.1 682.8,715.6"/>
<path d="M514.2,750.6 C518.5,752.1 520.2,748.6 522.7,744.0 C527.0,750.3 538.5,750.3 543.6,744.0 C550.4,745.3 555.0,747.4 566.3,745.9"/>
<path d="M553.0,768.6 C559.1,770.1 561.6,766.3 565.3,761.0 C570.0,770.9 584.2,770.9 591.0,762.0 C597.8,770.9 614.4,770.9 621.2,761.0 C626.3,765.7 629.8,769.2 638.3,767.7"/>
<path d="M735.8,754.0 C743.4,755.5 746.4,751.2 751.0,744.7 C758.6,758.6 774.2,758.6 779.3,749.8 C784.6,755.2 788.1,759.0 797.0,757.5"/>
<path d="M328.5,698.0 C332.8,705.7 343.7,705.7 348.4,697.0 C353.1,706.3 364.0,706.3 368.3,698.6 C372.5,706.4 383.4,706.4 388.1,699.9"/>
<path d="M311.4,778.5 C314.2,780.0 315.4,777.1 317.1,773.8 C322.2,780.2 332.6,780.2 336.0,772.8 C339.4,781.3 348.8,781.3 353.1,774.3 C357.1,777.9 359.8,780.9 366.4,779.4"/>
<path d="M242.3,788.0 C253.7,789.5 258.2,786.6 265.0,783.2 C268.3,788.0 270.5,791.5 276.0,790.0"/>
<path d="M291.5,786.0 C299.8,790.7 305.2,794.2 319.0,792.7"/>
<path d="M858.9,760.3 C868.8,761.8 872.8,758.6 878.8,754.6 C881.9,759.3 884.0,762.8 889.2,761.2"/>
<path d="M932.0,764.0 C943.8,765.5 948.5,762.9 955.5,760.3 C962.3,769.4 975.9,769.4 980.2,758.4 C986.1,770.7 1000.2,770.7 1005.7,760.3 C1013.1,764.9 1018.0,768.4 1030.3,766.9"/>
<path d="M783,793 L788.6,789.5 L794,793"/>
<path d="M806,793 L811.6,789.5 L817,793"/>
<defs><clipPath id="wclip"><path d="M255.6,736.8 C265,735 281,737 288.7,748.2 C296,743 315,741 329.4,749.1 C322,756 301,760 292.5,769 L291.5,791.7 L273.6,791.7 C276,782 279,775 279.2,770.9 C275,760 262,748 255.6,736.8 Z"/></clipPath></defs>
<path d="M160.0,800.0 L230.0,730.0 M164.0,800.0 L234.0,730.0 M168.0,800.0 L238.0,730.0 M172.0,800.0 L242.0,730.0 M176.0,800.0 L246.0,730.0 M180.0,800.0 L250.0,730.0 M184.0,800.0 L254.0,730.0 M188.0,800.0 L258.0,730.0 M192.0,800.0 L262.0,730.0 M196.0,800.0 L266.0,730.0 M200.0,800.0 L270.0,730.0 M204.0,800.0 L274.0,730.0 M208.0,800.0 L278.0,730.0 M212.0,800.0 L282.0,730.0 M216.0,800.0 L286.0,730.0 M220.0,800.0 L290.0,730.0 M224.0,800.0 L294.0,730.0 M228.0,800.0 L298.0,730.0 M232.0,800.0 L302.0,730.0 M236.0,800.0 L306.0,730.0 M240.0,800.0 L310.0,730.0 M244.0,800.0 L314.0,730.0 M248.0,800.0 L318.0,730.0 M252.0,800.0 L322.0,730.0 M256.0,800.0 L326.0,730.0 M260.0,800.0 L330.0,730.0 M264.0,800.0 L334.0,730.0 M268.0,800.0 L338.0,730.0 M272.0,800.0 L342.0,730.0 M276.0,800.0 L346.0,730.0 M280.0,800.0 L350.0,730.0 M284.0,800.0 L354.0,730.0 M288.0,800.0 L358.0,730.0 M292.0,800.0 L362.0,730.0 M296.0,800.0 L366.0,730.0 M300.0,800.0 L370.0,730.0 M304.0,800.0 L374.0,730.0 M308.0,800.0 L378.0,730.0 M312.0,800.0 L382.0,730.0 M316.0,800.0 L386.0,730.0 M320.0,800.0 L390.0,730.0 M324.0,800.0 L394.0,730.0 M328.0,800.0 L398.0,730.0 M332.0,800.0 L402.0,730.0 M336.0,800.0 L406.0,730.0 M340.0,800.0 L410.0,730.0 M344.0,800.0 L414.0,730.0 M348.0,800.0 L418.0,730.0 M352.0,800.0 L422.0,730.0 M356.0,800.0 L426.0,730.0 M360.0,800.0 L430.0,730.0 M364.0,800.0 L434.0,730.0 M368.0,800.0 L438.0,730.0 M372.0,800.0 L442.0,730.0 M376.0,800.0 L446.0,730.0 M380.0,800.0 L450.0,730.0 M384.0,800.0 L454.0,730.0 M388.0,800.0 L458.0,730.0 M392.0,800.0 L462.0,730.0 M396.0,800.0 L466.0,730.0 " clip-path="url(#wclip)" stroke="#555" stroke-width="1.3" fill="none"/>
<path d="M255.6,736.8 C265,735 281,737 288.7,748.2 C296,743 315,741 329.4,749.1 C322,756 301,760 292.5,769 L291.5,791.7 L273.6,791.7 C276,782 279,775 279.2,770.9 C275,760 262,748 255.6,736.8 Z"/>
<path d="M258.4,732.1 C253,733 246,731 246.5,727.5 C247,724 252,725 254,727 Z"/>
<path d="M319,740.6 C318,736 322,731 327,731.5 C331,732.5 329,736 326,737.5 Z"/>
<path d="M332.3,741.5 C335,738.5 341,737.5 345,739.5 C347,742.5 344,744.4 338,744 Z"/>
<text x="0" y="0" font-family="Liberation Serif" font-size="15.5" fill="#444" stroke="none" transform="translate(52.3,742.3) rotate(90)" text-anchor="middle">18</text>
<path d="M496.1,541.3L495.8,544.1L495.0,546.4L493.8,548.2L492.5,549.1L491.1,549.0L489.8,548.0L488.9,546.2L488.3,543.7L488.2,541.0L488.5,538.3L489.3,535.9L490.4,534.2L491.8,533.3L493.2,533.3L494.4,534.3L495.4,536.2L496.0,538.6L496.1,541.3M506.4,533.8L500.1,533.5L499.4,549.5M499.8,541.2L504.9,541.4M516.3,534.2L510.1,533.9L509.4,549.9M509.7,541.6L514.9,541.8M522.5,534.5L521.8,550.5M520.0,534.4L525.1,534.6M519.3,550.4L524.4,550.6M536.1,537.5L534.2,535.0L531.6,534.9L529.3,537.7L528.4,542.8L528.9,547.9L530.9,550.9L533.6,551.0L535.6,548.8M546.1,535.5L539.8,535.2L539.1,551.2L545.4,551.5M539.5,542.9L544.6,543.1M549.1,551.7L554.9,535.9M561.1,536.2L560.4,552.2M558.5,536.1L563.7,536.3M557.9,552.0L563.0,552.3M566.6,552.4L567.3,536.4L574.1,552.8L574.7,536.8M584.7,537.2L578.4,536.9L577.7,552.9M578.1,544.6L583.2,544.8M590.8,537.5L590.1,553.5M588.3,537.4L593.5,537.6M587.6,553.3L592.8,553.6M596.4,553.7L597.1,537.7L601.4,537.9L603.3,539.9L603.1,543.8L601.1,545.6L596.8,545.4M599.6,545.5L603.5,554.0M606.9,554.2L608.3,538.2L611.7,548.3L616.0,538.6L616.0,554.6M619.7,554.7L624.4,538.9L627.7,555.1M621.6,548.4L626.4,548.6M631.3,555.3L632.0,539.3L636.4,539.5L638.2,541.5L638.0,545.3L636.0,547.1L631.7,546.9M634.5,547.1L638.4,555.6M642.5,539.7L645.9,547.9L650.0,540.1M645.9,547.9L645.6,555.9" fill="none" stroke="#4c4c4c" stroke-width="1.56" stroke-linecap="round" stroke-linejoin="round"/>
<path d="M477.4,552.7 L596.9,552.7 L584.0,576.6 L488.5,576.6 L477.4,552.7"/>
<path d="M490.3,576.6 L490.3,609.7 L580.4,609.7 L580.4,576.6"/>
<path d="M505.0,613.4 L534.4,560.1 L563.8,613.4"/>
<path d="M514.2,611.5 L536.2,573.0 L556.5,611.5"/>
<path d="M505.0,613.4 L514.2,611.5"/>
<path d="M556.5,611.5 L563.8,613.4"/>
<path d="M525.2,589.5 L539.9,589.5 L539.9,600.5 L525.2,600.5Z"/>
<path d="M916.2,626.3 C922.3,623.0 942.8,614.1 953.0,606.7 C963.2,599.4 970.6,592.0 977.5,582.2 C984.4,572.4 991.8,558.0 994.6,547.8 C997.5,537.6 992.2,530.7 994.6,520.9 C997.0,511.1 1006.8,494.3 1009.3,489.0"/>
<path d="M938.2,633.6 C942.7,629.9 957.0,621.0 965.2,611.6 C973.4,602.2 981.5,587.2 987.3,577.3 C993.1,567.4 997.9,556.2 1000.0,552.0"/>
<path d="M1014.2,489.0 C1016.2,490.8 1022.3,495.9 1026.0,500.0 C1029.7,504.1 1034.6,511.2 1036.3,513.5"/>
<path d="M999.0,531.0 C1000.8,528.3 1004.8,526.0 1008.0,525.8 C1011.2,525.6 1015.7,526.6 1018.0,530.0 C1020.3,533.4 1022.3,541.8 1021.6,546.0 C1020.9,550.2 1017.3,554.2 1014.0,555.2 C1010.7,556.2 1004.8,554.2 1002.0,552.0 C999.2,549.8 997.5,545.5 997.0,542.0 C996.5,538.5 997.2,533.7 999.0,531.0Z"/>
<path d="M1018.0,531.0 C1020.0,529.5 1026.7,524.0 1030.0,522.0 C1033.3,520.0 1036.7,519.5 1038.0,519.0"/>
<path d="M955.4,572.4 C954.2,572.0 950.6,569.1 948.0,570.0 C945.4,570.9 942.0,574.7 940.0,578.0 C938.0,581.3 937.5,586.7 936.0,590.0 C934.5,593.3 931.7,594.7 931.0,598.0 C930.3,601.3 932.2,606.7 932.0,610.0 C931.8,613.3 930.3,616.7 930.0,618.0"/>
<path d="M936.0,590.0 C937.3,590.3 941.7,592.7 944.0,592.0 C946.3,591.3 949.0,587.0 950.0,586.0"/>
<path d="M932.0,605.0 C933.3,604.8 937.7,603.2 940.0,604.0 C942.3,604.8 945.0,609.0 946.0,610.0"/>
<path d="M946.5,616.5 L936,621.5 L942,628 Z" fill="#3a3a3a"/>
<path d="M959.9,612.3 C960.9,610.0 965.0,608.0 966.0,610.0 C967.0,612.0 967.0,622.3 966.0,624.6 C965.0,626.9 961.0,626.0 960.0,624.0 C959.0,622.0 958.9,614.6 959.9,612.3Z"/>
<path d="M955.0,623.0 L968.0,623.0"/>
<path d="M987.0,600.0 C985.4,604.1 979.8,616.8 977.1,624.6 C974.4,632.4 973.9,639.8 971.0,646.8 C968.1,653.8 963.0,660.4 959.9,666.5 C956.8,672.6 955.4,679.2 952.5,683.7 C949.6,688.2 946.3,689.0 942.6,693.5 C938.9,698.0 934.4,703.4 930.3,710.8 C926.2,718.2 921.3,731.7 918.0,737.9 C914.7,744.1 911.8,746.3 910.6,748.0"/>
<path d="M971.0,646.8 C973.7,645.8 981.5,641.0 987.0,640.6 C992.5,640.2 1001.3,643.7 1004.2,644.3"/>
<path d="M1004.2,644.3 C1004.6,641.4 1003.7,631.6 1006.6,627.1 C1009.5,622.6 1016.1,619.9 1021.4,617.2 C1026.7,614.5 1035.7,612.1 1038.6,611.1"/>
<path d="M1004.2,644.3 L1003.0,655.4"/>
<path d="M942.6,651.7 L959.9,656.6"/>
<path d="M940.2,635.7 C940.6,638.4 944.7,647.4 942.6,651.7 C940.5,656.0 932.4,658.2 927.9,661.5 C923.4,664.8 920.1,669.3 915.6,671.4 C911.1,673.5 904.5,672.3 900.8,673.9 C897.1,675.5 897.1,676.7 893.4,681.2 C889.7,685.7 880.6,695.6 878.6,700.9 C876.6,706.2 881.5,709.5 881.1,713.2 C880.7,716.9 877.7,719.5 876.2,723.1 C874.7,726.7 872.7,733.0 872.0,735.0"/>
<path d="M913.1,682.0 C913.1,679.5 915.2,672.2 918.0,670.0 C920.8,667.8 926.7,667.2 930.0,668.9 C933.3,670.6 937.0,677.3 937.7,680.0 C938.4,682.7 937.3,684.1 934.0,684.9 C930.7,685.7 921.5,685.5 918.0,685.0 C914.5,684.5 913.1,684.5 913.1,682.0Z"/>
<path d="M858.9,705.0 C859.4,703.0 860.4,695.7 862.0,693.0 C863.6,690.3 865.8,689.6 868.8,688.6 C871.8,687.6 877.1,687.0 880.0,687.0 C882.9,687.0 885.0,688.3 886.0,688.6"/>
<path d="M913.0,685.0 C912.6,689.7 913.1,706.9 910.6,713.2 C908.1,719.6 900.8,718.2 898.3,723.1 C895.8,728.0 896.3,739.5 895.9,742.8"/>
<path d="M878.6,713.2 L898.3,713.2 L910.0,708.0 L923.0,705.9 L930.0,710.0"/>
<path d="M940.2,696.0 C941.8,695.0 946.3,691.6 950.0,690.0 C953.7,688.4 959.4,684.0 962.3,686.2 C965.2,688.4 966.3,697.2 967.3,703.4 C968.3,709.5 968.9,715.3 968.5,723.1 C968.1,730.9 965.4,745.7 964.8,750.2"/>
<path d="M947.6,696.0 L945.1,728.0"/>
<path d="M790.0,703.0 L800.0,704.0 L804.0,701.0 L810.0,702.0 L812.0,708.0 L804.0,710.0 L800.0,706.0"/>
<path d="M812.0,702.0 L818.0,699.0 L826.0,701.0 L828.0,706.0 L826.0,710.0 L818.0,711.0 L812.0,708.0"/>
<path d="M839.0,702.0 L852.0,700.0 L856.5,706.0 L854.0,713.2 L843.0,713.0 L839.0,708.0Z"/>
<path d="M822.0,720.0 L830.0,718.0 L836.8,722.0 L834.0,725.6 L824.0,725.6Z"/>
<path d="M846.6,721 a2.5,3 0 1 0 5,0 a2.5,3 0 1 0 -5,0"/>
<path d="M869.0,726.0 L884.0,724.3 L887.2,733.0 L885.0,736.6 L872.0,736.6 L868.8,730.0Z"/>
<path d="M862.0,708.0 L865.0,703.0"/>
<path d="M862.0,717.0 L870.0,712.0"/>
<path d="M880.7,756.0 L888.0,747.0 L893.0,742.0 L900.6,743.3 L905.3,751.8 L899.0,759.0 L890.0,761.0"/>
<path d="M905.3,748.9 L910.0,740.4 L917.6,739.5 L927.1,744.2 L932.8,758.4 L923.3,763.1 L908.2,756.5 L905.3,748.9"/>
<path d="M925.2,759.0 L933.0,758.4 L934.7,765.0 L926.0,766.0"/>
<path d="M896.8,741.4 L896.0,733.0"/>
<path d="M916.7,739.5 L920.0,733.0"/>
<path d="M959.3,753.0 L965.0,750.8 L973.0,753.0 L980.2,758.4"/>
<path d="M965.0,750.8 L965.0,742.0"/>
<path d="M876.0,628.0L876.0,642.0M876.0,628.0L880.0,628.0L881.6,629.4L881.6,633.0L880.0,634.6L876.0,634.6M880.0,634.6L882.1,636.1L882.3,640.3L880.7,642.0L876.0,642.0M888.0,628.0L888.0,642.0M885.7,628.0L890.5,628.0M885.7,642.0L890.5,642.0M893.8,628.0L893.8,642.0M893.8,628.0L897.8,628.0L899.4,629.4L899.4,633.0L897.8,634.6L893.8,634.6M897.8,634.6L900.0,636.1L900.2,640.3L898.6,642.0L893.8,642.0M903.5,628.0L903.5,642.0L908.8,642.0M918.0,628.0L912.2,628.0L912.2,642.0L918.0,642.0M912.2,634.7L916.9,634.7" fill="none" stroke="#4c4c4c" stroke-width="1.44" stroke-linecap="round" stroke-linejoin="round"/>
<line x1="596.6" y1="254.7" x2="642" y2="260.5" stroke="#0000e6" stroke-width="3.5"/>
<path d="M637.4,254.2 L657.2,262.4 L639.7,268 Z" fill="#0000e6" stroke="none"/>
<line x1="547.7" y1="264" x2="572" y2="362" stroke="#0000e6" stroke-width="3.5"/>
<path d="M565.2,360.7 L576.4,374.7 L578,358.4 Z" fill="#0000e6" stroke="none"/>
</g>
<!-- blue annotations -->
<ellipse class="bl" cx="835" cy="198" rx="162" ry="86.5"/>
<g class="b">
<text x="497" y="229.5" textLength="115" lengthAdjust="spacingAndGlyphs">Bathrooms &amp;</text>
<text x="517" y="252" textLength="74" lengthAdjust="spacingAndGlyphs">showers</text>
<text x="775" y="252" textLength="113" lengthAdjust="spacingAndGlyphs">Cabins 20-30</text>
<text x="767" y="428" textLength="119" lengthAdjust="spacingAndGlyphs">Where we eat</text>
<text x="769" y="450" textLength="115" lengthAdjust="spacingAndGlyphs">and meet out</text>
<text x="806" y="471.5" textLength="41" lengthAdjust="spacingAndGlyphs">front</text>
<text x="649" y="621" textLength="120" lengthAdjust="spacingAndGlyphs">Kayaking and</text>
<text x="630" y="643" textLength="158" lengthAdjust="spacingAndGlyphs">snorkeling launch</text>
<text x="621" y="665" textLength="177" lengthAdjust="spacingAndGlyphs">from the beach here</text>
</g>
<rect x="822" y="631" width="114" height="24" fill="#fff"/>
<text class="b" x="828" y="650" textLength="105" lengthAdjust="spacingAndGlyphs">Hiking trails</text>
</svg>
</body></html>
